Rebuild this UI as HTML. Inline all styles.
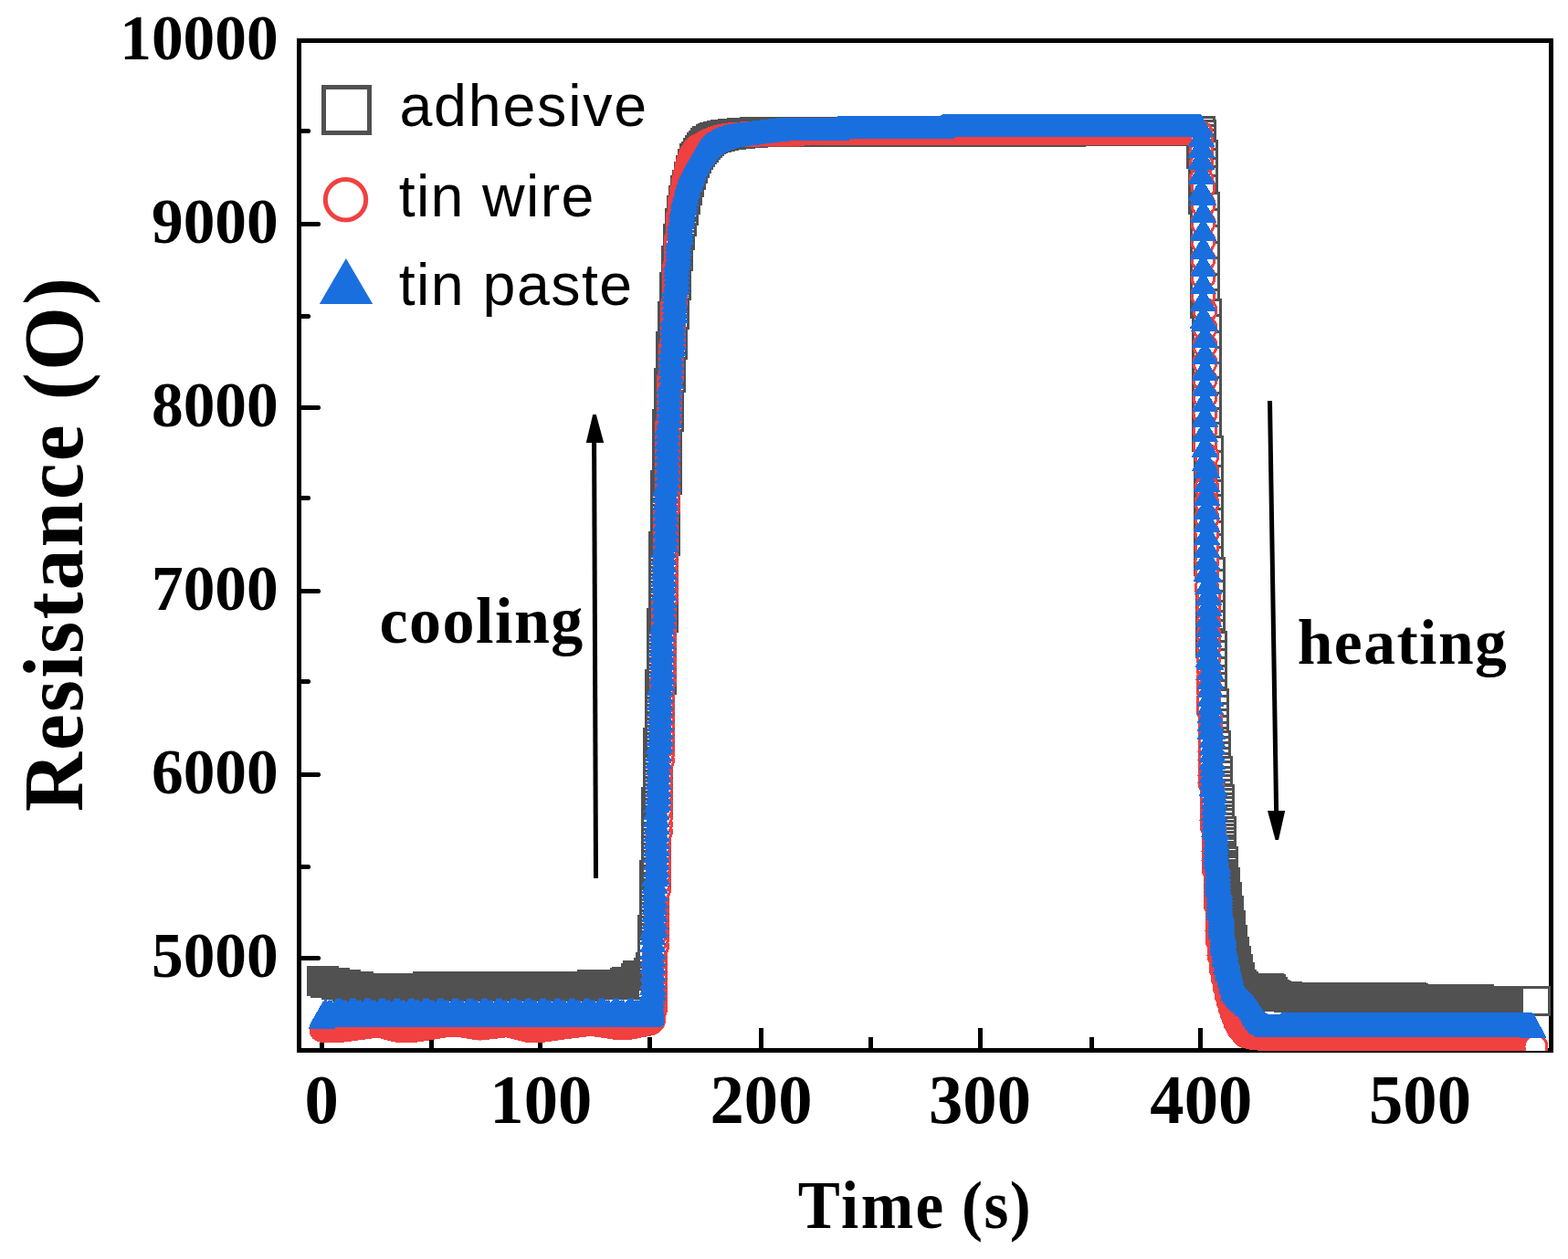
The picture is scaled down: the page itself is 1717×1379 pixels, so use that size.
<!DOCTYPE html>
<html lang="en"><head><meta charset="utf-8"><title>Resistance vs Time</title>
<style>html,body{margin:0;padding:0;background:#fff}svg{display:block}</style></head>
<body><svg width="1717" height="1379" viewBox="0 0 1717 1379">
<rect width="1717" height="1379" fill="#fff"/>
<defs>
<clipPath id="c"><rect x="328" y="44" width="1371" height="1107"/></clipPath>
</defs>
<g stroke="#000" stroke-width="5" fill="none" shape-rendering="crispEdges">
<rect x="327.5" y="44.5" width="1371.0" height="1106.0"/>
<path d="M327.5 245.5H350M327.5 446.5H350M327.5 647.5H350M327.5 848.5H350M327.5 1049.5H350M327.5 143.5H339M327.5 346.5H339M327.5 545.5H339M327.5 746.5H339M327.5 949.5H339M352.5 1150.5V1126M591.5 1150.5V1126M833.5 1150.5V1126M1073.5 1150.5V1126M1314.5 1150.5V1126M1555 1150.5V1126M472.5 1150.5V1136M711.5 1150.5V1136M953.5 1150.5V1136M1195.5 1150.5V1136M1434.75 1150.5V1136M1675.25 1150.5V1136"/>
<path d="M350 245.5h1M350 446.5h1M350 647.5h1M350 848.5h1M350 1049.5h1M339 143.5h1M339 346.5h1M339 545.5h1M339 746.5h1M339 949.5h1" stroke-width="3"/>
</g>
<g clip-path="url(#c)" shape-rendering="crispEdges">
<g id="adhesive" fill="#fff" stroke="#515151" stroke-width="3">
<rect x="337.5" y="1059.5" width="30" height="30"/><rect x="339.5" y="1059.5" width="30" height="30"/><rect x="341.5" y="1061.5" width="30" height="30"/><rect x="343.5" y="1061.5" width="30" height="30"/><rect x="345.5" y="1061.5" width="30" height="30"/><rect x="347.5" y="1061.5" width="30" height="30"/><rect x="349.5" y="1061.5" width="30" height="30"/><rect x="351.5" y="1061.5" width="30" height="30"/><rect x="353.5" y="1063.5" width="30" height="30"/><rect x="355.5" y="1063.5" width="30" height="30"/><rect x="357.5" y="1063.5" width="30" height="30"/><rect x="359.5" y="1063.5" width="30" height="30"/><rect x="361.5" y="1063.5" width="30" height="30"/><rect x="363.5" y="1063.5" width="30" height="30"/><rect x="365.5" y="1065.5" width="30" height="30"/><rect x="367.5" y="1065.5" width="30" height="30"/><rect x="369.5" y="1065.5" width="30" height="30"/><rect x="371.5" y="1065.5" width="30" height="30"/><rect x="373.5" y="1065.5" width="30" height="30"/><rect x="375.5" y="1065.5" width="30" height="30"/><rect x="377.5" y="1065.5" width="30" height="30"/><rect x="379.5" y="1067.5" width="30" height="30"/><rect x="381.5" y="1067.5" width="30" height="30"/><rect x="383.5" y="1067.5" width="30" height="30"/><rect x="385.5" y="1067.5" width="30" height="30"/><rect x="387.5" y="1067.5" width="30" height="30"/><rect x="389.5" y="1067.5" width="30" height="30"/><rect x="391.5" y="1067.5" width="30" height="30"/><rect x="393.5" y="1067.5" width="30" height="30"/><rect x="395.5" y="1067.5" width="30" height="30"/><rect x="397.5" y="1067.5" width="30" height="30"/><rect x="399.5" y="1067.5" width="30" height="30"/><rect x="401.5" y="1067.5" width="30" height="30"/><rect x="403.5" y="1067.5" width="30" height="30"/><rect x="405.5" y="1067.5" width="30" height="30"/><rect x="407.5" y="1067.5" width="30" height="30"/><rect x="409.5" y="1067.5" width="30" height="30"/><rect x="411.5" y="1067.5" width="30" height="30"/><rect x="413.5" y="1067.5" width="30" height="30"/><rect x="415.5" y="1067.5" width="30" height="30"/><rect x="417.5" y="1067.5" width="30" height="30"/><rect x="419.5" y="1067.5" width="30" height="30"/><rect x="421.5" y="1067.5" width="30" height="30"/><rect x="423.5" y="1067.5" width="30" height="30"/><rect x="425.5" y="1067.5" width="30" height="30"/><rect x="427.5" y="1067.5" width="30" height="30"/><rect x="429.5" y="1067.5" width="30" height="30"/><rect x="431.5" y="1067.5" width="30" height="30"/><rect x="433.5" y="1067.5" width="30" height="30"/><rect x="435.5" y="1067.5" width="30" height="30"/><rect x="437.5" y="1067.5" width="30" height="30"/><rect x="439.5" y="1067.5" width="30" height="30"/><rect x="441.5" y="1067.5" width="30" height="30"/><rect x="443.5" y="1067.5" width="30" height="30"/><rect x="445.5" y="1067.5" width="30" height="30"/><rect x="447.5" y="1067.5" width="30" height="30"/><rect x="449.5" y="1067.5" width="30" height="30"/><rect x="451.5" y="1067.5" width="30" height="30"/><rect x="453.5" y="1065.5" width="30" height="30"/><rect x="455.5" y="1065.5" width="30" height="30"/><rect x="457.5" y="1065.5" width="30" height="30"/><rect x="459.5" y="1065.5" width="30" height="30"/><rect x="461.5" y="1065.5" width="30" height="30"/><rect x="463.5" y="1065.5" width="30" height="30"/><rect x="465.5" y="1065.5" width="30" height="30"/><rect x="467.5" y="1065.5" width="30" height="30"/><rect x="469.5" y="1065.5" width="30" height="30"/><rect x="471.5" y="1065.5" width="30" height="30"/><rect x="473.5" y="1065.5" width="30" height="30"/><rect x="475.5" y="1065.5" width="30" height="30"/><rect x="477.5" y="1065.5" width="30" height="30"/><rect x="479.5" y="1065.5" width="30" height="30"/><rect x="481.5" y="1065.5" width="30" height="30"/><rect x="483.5" y="1065.5" width="30" height="30"/><rect x="485.5" y="1065.5" width="30" height="30"/><rect x="487.5" y="1065.5" width="30" height="30"/><rect x="489.5" y="1065.5" width="30" height="30"/><rect x="491.5" y="1065.5" width="30" height="30"/><rect x="493.5" y="1065.5" width="30" height="30"/><rect x="495.5" y="1065.5" width="30" height="30"/><rect x="497.5" y="1065.5" width="30" height="30"/><rect x="499.5" y="1065.5" width="30" height="30"/><rect x="501.5" y="1065.5" width="30" height="30"/><rect x="503.5" y="1065.5" width="30" height="30"/><rect x="505.5" y="1065.5" width="30" height="30"/><rect x="507.5" y="1065.5" width="30" height="30"/><rect x="509.5" y="1065.5" width="30" height="30"/><rect x="511.5" y="1065.5" width="30" height="30"/><rect x="513.5" y="1065.5" width="30" height="30"/><rect x="515.5" y="1065.5" width="30" height="30"/><rect x="517.5" y="1065.5" width="30" height="30"/><rect x="519.5" y="1065.5" width="30" height="30"/><rect x="521.5" y="1065.5" width="30" height="30"/><rect x="523.5" y="1065.5" width="30" height="30"/><rect x="525.5" y="1065.5" width="30" height="30"/><rect x="527.5" y="1065.5" width="30" height="30"/><rect x="529.5" y="1065.5" width="30" height="30"/><rect x="531.5" y="1065.5" width="30" height="30"/><rect x="533.5" y="1065.5" width="30" height="30"/><rect x="535.5" y="1065.5" width="30" height="30"/><rect x="537.5" y="1065.5" width="30" height="30"/><rect x="539.5" y="1065.5" width="30" height="30"/><rect x="541.5" y="1065.5" width="30" height="30"/><rect x="543.5" y="1065.5" width="30" height="30"/><rect x="545.5" y="1065.5" width="30" height="30"/><rect x="547.5" y="1065.5" width="30" height="30"/><rect x="549.5" y="1065.5" width="30" height="30"/><rect x="551.5" y="1065.5" width="30" height="30"/><rect x="553.5" y="1065.5" width="30" height="30"/><rect x="555.5" y="1065.5" width="30" height="30"/><rect x="557.5" y="1065.5" width="30" height="30"/><rect x="559.5" y="1065.5" width="30" height="30"/><rect x="561.5" y="1065.5" width="30" height="30"/><rect x="563.5" y="1065.5" width="30" height="30"/><rect x="565.5" y="1065.5" width="30" height="30"/><rect x="567.5" y="1065.5" width="30" height="30"/><rect x="569.5" y="1065.5" width="30" height="30"/><rect x="571.5" y="1065.5" width="30" height="30"/><rect x="573.5" y="1065.5" width="30" height="30"/><rect x="575.5" y="1065.5" width="30" height="30"/><rect x="577.5" y="1065.5" width="30" height="30"/><rect x="579.5" y="1065.5" width="30" height="30"/><rect x="581.5" y="1065.5" width="30" height="30"/><rect x="583.5" y="1065.5" width="30" height="30"/><rect x="585.5" y="1065.5" width="30" height="30"/><rect x="587.5" y="1065.5" width="30" height="30"/><rect x="589.5" y="1065.5" width="30" height="30"/><rect x="591.5" y="1065.5" width="30" height="30"/><rect x="593.5" y="1065.5" width="30" height="30"/><rect x="595.5" y="1065.5" width="30" height="30"/><rect x="597.5" y="1065.5" width="30" height="30"/><rect x="599.5" y="1065.5" width="30" height="30"/><rect x="601.5" y="1065.5" width="30" height="30"/><rect x="603.5" y="1065.5" width="30" height="30"/><rect x="605.5" y="1065.5" width="30" height="30"/><rect x="607.5" y="1065.5" width="30" height="30"/><rect x="609.5" y="1065.5" width="30" height="30"/><rect x="611.5" y="1065.5" width="30" height="30"/><rect x="613.5" y="1065.5" width="30" height="30"/><rect x="615.5" y="1065.5" width="30" height="30"/><rect x="617.5" y="1065.5" width="30" height="30"/><rect x="619.5" y="1065.5" width="30" height="30"/><rect x="621.5" y="1065.5" width="30" height="30"/><rect x="623.5" y="1065.5" width="30" height="30"/><rect x="625.5" y="1065.5" width="30" height="30"/><rect x="627.5" y="1065.5" width="30" height="30"/><rect x="629.5" y="1065.5" width="30" height="30"/><rect x="631.5" y="1065.5" width="30" height="30"/><rect x="633.5" y="1063.5" width="30" height="30"/><rect x="635.5" y="1063.5" width="30" height="30"/><rect x="637.5" y="1063.5" width="30" height="30"/><rect x="639.5" y="1063.5" width="30" height="30"/><rect x="641.5" y="1063.5" width="30" height="30"/><rect x="643.5" y="1063.5" width="30" height="30"/><rect x="645.5" y="1063.5" width="30" height="30"/><rect x="647.5" y="1063.5" width="30" height="30"/><rect x="649.5" y="1063.5" width="30" height="30"/><rect x="651.5" y="1063.5" width="30" height="30"/><rect x="653.5" y="1063.5" width="30" height="30"/><rect x="655.5" y="1063.5" width="30" height="30"/><rect x="657.5" y="1063.5" width="30" height="30"/><rect x="659.5" y="1063.5" width="30" height="30"/><rect x="661.5" y="1063.5" width="30" height="30"/><rect x="663.5" y="1063.5" width="30" height="30"/><rect x="665.5" y="1063.5" width="30" height="30"/><rect x="667.5" y="1063.5" width="30" height="30"/><rect x="669.5" y="1061.3" width="30" height="30"/><rect x="669.5" y="1063.5" width="30" height="30"/><rect x="671.5" y="1060.2" width="30" height="30"/><rect x="671.5" y="1063.5" width="30" height="30"/><rect x="673.5" y="1060.2" width="30" height="30"/><rect x="673.5" y="1063.5" width="30" height="30"/><rect x="675.5" y="1060.2" width="30" height="30"/><rect x="675.5" y="1063.5" width="30" height="30"/><rect x="677.5" y="1060.2" width="30" height="30"/><rect x="677.5" y="1063.5" width="30" height="30"/><rect x="679.5" y="1060.2" width="30" height="30"/><rect x="679.5" y="1063.5" width="30" height="30"/><rect x="681.5" y="1056.7" width="30" height="30"/><rect x="681.5" y="1063.5" width="30" height="30"/><rect x="683.5" y="1053.2" width="30" height="30"/><rect x="683.5" y="1063.5" width="30" height="30"/><rect x="685.5" y="1053.2" width="30" height="30"/><rect x="685.5" y="1063.5" width="30" height="30"/><rect x="687.5" y="1053.2" width="30" height="30"/><rect x="687.5" y="1063.5" width="30" height="30"/><rect x="689.5" y="1053.2" width="30" height="30"/><rect x="689.5" y="1063.5" width="30" height="30"/><rect x="691.5" y="1053.2" width="30" height="30"/><rect x="691.5" y="1063.5" width="30" height="30"/><rect x="693.5" y="1053.2" width="30" height="30"/><rect x="693.5" y="1063.5" width="30" height="30"/><rect x="694" y="1063.5" width="30" height="30"/><rect x="696" y="1063.5" width="30" height="30"/><rect x="698" y="1063.5" width="30" height="30"/><rect x="693.9" y="1053.2" width="30" height="30"/><rect x="695.9" y="1052.1" width="30" height="30"/><rect x="695.9" y="1050.4" width="30" height="30"/><rect x="697.9" y="1049.9" width="30" height="30"/><rect x="697.9" y="1048.1" width="30" height="30"/><rect x="697.9" y="1046.2" width="30" height="30"/><rect x="697.9" y="1044.1" width="30" height="30"/><rect x="699.9" y="1042" width="30" height="30"/><rect x="699.9" y="1039.5" width="30" height="30"/><rect x="699.9" y="1036.6" width="30" height="30"/><rect x="699.9" y="1033.1" width="30" height="30"/><rect x="699.9" y="1029" width="30" height="30"/><rect x="699.9" y="1024" width="30" height="30"/><rect x="699.9" y="1018.3" width="30" height="30"/><rect x="699.9" y="1011.7" width="30" height="30"/><rect x="699.9" y="1003.9" width="30" height="30"/><rect x="701.9" y="998.5" width="30" height="30"/><rect x="701.9" y="990.6" width="30" height="30"/><rect x="701.9" y="982.8" width="30" height="30"/><rect x="701.9" y="974.9" width="30" height="30"/><rect x="701.9" y="967.1" width="30" height="30"/><rect x="701.9" y="959.3" width="30" height="30"/><rect x="701.9" y="951.4" width="30" height="30"/><rect x="701.9" y="943.6" width="30" height="30"/><rect x="703.9" y="941.7" width="30" height="30"/><rect x="703.9" y="933.8" width="30" height="30"/><rect x="703.9" y="926" width="30" height="30"/><rect x="703.9" y="918.1" width="30" height="30"/><rect x="703.9" y="910.3" width="30" height="30"/><rect x="703.9" y="902.5" width="30" height="30"/><rect x="703.9" y="894.6" width="30" height="30"/><rect x="703.9" y="886.7" width="30" height="30"/><rect x="703.9" y="878.9" width="30" height="30"/><rect x="703.9" y="871.1" width="30" height="30"/><rect x="703.9" y="863.3" width="30" height="30"/><rect x="705.9" y="860.9" width="30" height="30"/><rect x="705.9" y="853" width="30" height="30"/><rect x="705.9" y="845.2" width="30" height="30"/><rect x="705.9" y="837.5" width="30" height="30"/><rect x="705.9" y="829.7" width="30" height="30"/><rect x="705.9" y="821.9" width="30" height="30"/><rect x="705.9" y="814.1" width="30" height="30"/><rect x="705.9" y="806.3" width="30" height="30"/><rect x="705.9" y="798.6" width="30" height="30"/><rect x="707.9" y="796.8" width="30" height="30"/><rect x="707.9" y="789" width="30" height="30"/><rect x="707.9" y="781.2" width="30" height="30"/><rect x="707.9" y="773.4" width="30" height="30"/><rect x="707.9" y="765.6" width="30" height="30"/><rect x="707.9" y="757.8" width="30" height="30"/><rect x="707.9" y="750" width="30" height="30"/><rect x="707.9" y="742.2" width="30" height="30"/><rect x="707.9" y="734.4" width="30" height="30"/><rect x="709.9" y="729.9" width="30" height="30"/><rect x="709.9" y="722.1" width="30" height="30"/><rect x="709.9" y="714.3" width="30" height="30"/><rect x="709.9" y="706.5" width="30" height="30"/><rect x="709.9" y="698.7" width="30" height="30"/><rect x="709.9" y="691" width="30" height="30"/><rect x="709.9" y="683.2" width="30" height="30"/><rect x="709.9" y="675.4" width="30" height="30"/><rect x="709.9" y="667.6" width="30" height="30"/><rect x="711.9" y="661.5" width="30" height="30"/><rect x="711.9" y="653.7" width="30" height="30"/><rect x="711.9" y="645.9" width="30" height="30"/><rect x="711.9" y="638.2" width="30" height="30"/><rect x="711.9" y="630.5" width="30" height="30"/><rect x="711.9" y="622.8" width="30" height="30"/><rect x="711.9" y="615" width="30" height="30"/><rect x="711.9" y="607.2" width="30" height="30"/><rect x="711.9" y="599.5" width="30" height="30"/><rect x="711.9" y="591.7" width="30" height="30"/><rect x="711.9" y="583.9" width="30" height="30"/><rect x="713.9" y="577.8" width="30" height="30"/><rect x="713.9" y="570.1" width="30" height="30"/><rect x="713.9" y="562.3" width="30" height="30"/><rect x="713.9" y="554.6" width="30" height="30"/><rect x="713.9" y="546.8" width="30" height="30"/><rect x="713.9" y="539.2" width="30" height="30"/><rect x="713.9" y="531.5" width="30" height="30"/><rect x="713.9" y="523.8" width="30" height="30"/><rect x="713.9" y="516.1" width="30" height="30"/><rect x="715.9" y="510.5" width="30" height="30"/><rect x="715.9" y="502.8" width="30" height="30"/><rect x="715.9" y="495.1" width="30" height="30"/><rect x="715.9" y="487.5" width="30" height="30"/><rect x="715.9" y="479.7" width="30" height="30"/><rect x="715.9" y="472.1" width="30" height="30"/><rect x="715.9" y="464.4" width="30" height="30"/><rect x="715.9" y="456.7" width="30" height="30"/><rect x="715.9" y="449.1" width="30" height="30"/><rect x="717.9" y="441.5" width="30" height="30"/><rect x="717.9" y="433.9" width="30" height="30"/><rect x="717.9" y="426.4" width="30" height="30"/><rect x="717.9" y="419" width="30" height="30"/><rect x="717.9" y="411.6" width="30" height="30"/><rect x="717.9" y="404.4" width="30" height="30"/><rect x="719.9" y="398.6" width="30" height="30"/><rect x="719.9" y="391.6" width="30" height="30"/><rect x="719.9" y="384.6" width="30" height="30"/><rect x="719.9" y="377.7" width="30" height="30"/><rect x="719.9" y="371" width="30" height="30"/><rect x="719.9" y="364.4" width="30" height="30"/><rect x="721.9" y="362.8" width="30" height="30"/><rect x="721.9" y="356.3" width="30" height="30"/><rect x="721.9" y="349.9" width="30" height="30"/><rect x="721.9" y="343.5" width="30" height="30"/><rect x="721.9" y="337.2" width="30" height="30"/><rect x="721.9" y="331" width="30" height="30"/><rect x="723.9" y="329" width="30" height="30"/><rect x="723.9" y="322.9" width="30" height="30"/><rect x="723.9" y="317" width="30" height="30"/><rect x="723.9" y="311.1" width="30" height="30"/><rect x="723.9" y="305.2" width="30" height="30"/><rect x="723.9" y="299.5" width="30" height="30"/><rect x="725.9" y="297.1" width="30" height="30"/><rect x="725.9" y="291.5" width="30" height="30"/><rect x="725.9" y="286" width="30" height="30"/><rect x="725.9" y="280.6" width="30" height="30"/><rect x="725.9" y="275.3" width="30" height="30"/><rect x="725.9" y="270.1" width="30" height="30"/><rect x="727.9" y="265.6" width="30" height="30"/><rect x="727.9" y="260.7" width="30" height="30"/><rect x="727.9" y="255.9" width="30" height="30"/><rect x="727.9" y="251.3" width="30" height="30"/><rect x="727.9" y="246.7" width="30" height="30"/><rect x="729.9" y="242.6" width="30" height="30"/><rect x="729.9" y="238.2" width="30" height="30"/><rect x="729.9" y="234" width="30" height="30"/><rect x="729.9" y="229.8" width="30" height="30"/><rect x="731.9" y="227.6" width="30" height="30"/><rect x="731.9" y="223.6" width="30" height="30"/><rect x="731.9" y="219.7" width="30" height="30"/><rect x="731.9" y="215.9" width="30" height="30"/><rect x="733.9" y="215.4" width="30" height="30"/><rect x="733.9" y="211.7" width="30" height="30"/><rect x="733.9" y="208.1" width="30" height="30"/><rect x="733.9" y="204.6" width="30" height="30"/><rect x="735.9" y="203.8" width="30" height="30"/><rect x="735.9" y="200.4" width="30" height="30"/><rect x="735.9" y="197.1" width="30" height="30"/><rect x="735.9" y="193.8" width="30" height="30"/><rect x="737.9" y="193.4" width="30" height="30"/><rect x="737.9" y="190.3" width="30" height="30"/><rect x="737.9" y="187.3" width="30" height="30"/><rect x="739.9" y="184.6" width="30" height="30"/><rect x="739.9" y="181.7" width="30" height="30"/><rect x="739.9" y="178.9" width="30" height="30"/><rect x="741.9" y="176.5" width="30" height="30"/><rect x="741.9" y="173.8" width="30" height="30"/><rect x="741.9" y="171.2" width="30" height="30"/><rect x="743.9" y="169.3" width="30" height="30"/><rect x="743.9" y="166.9" width="30" height="30"/><rect x="743.9" y="164.5" width="30" height="30"/><rect x="745.9" y="163.4" width="30" height="30"/><rect x="745.9" y="161.1" width="30" height="30"/><rect x="745.9" y="158.9" width="30" height="30"/><rect x="747.9" y="158.8" width="30" height="30"/><rect x="747.9" y="156.6" width="30" height="30"/><rect x="749.9" y="154.9" width="30" height="30"/><rect x="749.9" y="152.8" width="30" height="30"/><rect x="751.9" y="151.6" width="30" height="30"/><rect x="751.9" y="149.6" width="30" height="30"/><rect x="753.9" y="148.7" width="30" height="30"/><rect x="753.9" y="146.8" width="30" height="30"/><rect x="755.9" y="146.1" width="30" height="30"/><rect x="755.9" y="144.3" width="30" height="30"/><rect x="757.9" y="143.6" width="30" height="30"/><rect x="757.9" y="141.9" width="30" height="30"/><rect x="759.9" y="141.3" width="30" height="30"/><rect x="759.9" y="139.7" width="30" height="30"/><rect x="761.9" y="139.4" width="30" height="30"/><rect x="763.9" y="137.8" width="30" height="30"/><rect x="765.9" y="136.8" width="30" height="30"/><rect x="767.9" y="135.9" width="30" height="30"/><rect x="769.9" y="135.2" width="30" height="30"/><rect x="771.9" y="134.6" width="30" height="30"/><rect x="773.9" y="134.1" width="30" height="30"/><rect x="775.9" y="133.6" width="30" height="30"/><rect x="777.9" y="133.2" width="30" height="30"/><rect x="779.9" y="132.8" width="30" height="30"/><rect x="781.9" y="132.5" width="30" height="30"/><rect x="783.9" y="132.3" width="30" height="30"/><rect x="785.9" y="132" width="30" height="30"/><rect x="787.9" y="131.8" width="30" height="30"/><rect x="789.9" y="131.6" width="30" height="30"/><rect x="791.9" y="131.4" width="30" height="30"/><rect x="793.9" y="131.2" width="30" height="30"/><rect x="795.9" y="131" width="30" height="30"/><rect x="797.9" y="130.8" width="30" height="30"/><rect x="799.9" y="130.7" width="30" height="30"/><rect x="801.9" y="130.5" width="30" height="30"/><rect x="803.9" y="130.3" width="30" height="30"/><rect x="805.9" y="130.2" width="30" height="30"/><rect x="807.9" y="130.1" width="30" height="30"/><rect x="809.9" y="130" width="30" height="30"/><rect x="811.9" y="129.8" width="30" height="30"/><rect x="813.9" y="129.7" width="30" height="30"/><rect x="815.9" y="129.6" width="30" height="30"/><rect x="817.5" y="129.6" width="30" height="30"/><rect x="819.5" y="129.6" width="30" height="30"/><rect x="821.5" y="129.6" width="30" height="30"/><rect x="823.5" y="129.6" width="30" height="30"/><rect x="825.5" y="129.6" width="30" height="30"/><rect x="827.5" y="129.6" width="30" height="30"/><rect x="829.5" y="129.6" width="30" height="30"/><rect x="831.5" y="129.6" width="30" height="30"/><rect x="833.5" y="129.6" width="30" height="30"/><rect x="835.5" y="129.6" width="30" height="30"/><rect x="837.5" y="129.6" width="30" height="30"/><rect x="839.5" y="129.6" width="30" height="30"/><rect x="841.5" y="129.6" width="30" height="30"/><rect x="843.5" y="129.6" width="30" height="30"/><rect x="845.5" y="129.6" width="30" height="30"/><rect x="847.5" y="129.6" width="30" height="30"/><rect x="849.5" y="129.6" width="30" height="30"/><rect x="851.5" y="129.6" width="30" height="30"/><rect x="853.5" y="129.6" width="30" height="30"/><rect x="855.5" y="129.6" width="30" height="30"/><rect x="857.5" y="129.6" width="30" height="30"/><rect x="859.5" y="129.6" width="30" height="30"/><rect x="861.5" y="129.6" width="30" height="30"/><rect x="863.5" y="129.6" width="30" height="30"/><rect x="865.5" y="129.6" width="30" height="30"/><rect x="867.5" y="129.6" width="30" height="30"/><rect x="869.5" y="129.6" width="30" height="30"/><rect x="871.5" y="129.6" width="30" height="30"/><rect x="873.5" y="129.6" width="30" height="30"/><rect x="875.5" y="129.6" width="30" height="30"/><rect x="877.5" y="129.6" width="30" height="30"/><rect x="879.5" y="129.6" width="30" height="30"/><rect x="881.5" y="129.6" width="30" height="30"/><rect x="883.5" y="129.6" width="30" height="30"/><rect x="885.5" y="129.6" width="30" height="30"/><rect x="887.5" y="129.6" width="30" height="30"/><rect x="889.5" y="129.6" width="30" height="30"/><rect x="891.5" y="129.6" width="30" height="30"/><rect x="893.5" y="129.6" width="30" height="30"/><rect x="895.5" y="129.6" width="30" height="30"/><rect x="897.5" y="129.6" width="30" height="30"/><rect x="899.5" y="129.6" width="30" height="30"/><rect x="901.5" y="129.5" width="30" height="30"/><rect x="903.5" y="129.5" width="30" height="30"/><rect x="905.5" y="129.5" width="30" height="30"/><rect x="907.5" y="129.5" width="30" height="30"/><rect x="909.5" y="129.5" width="30" height="30"/><rect x="911.5" y="129.5" width="30" height="30"/><rect x="913.5" y="129.5" width="30" height="30"/><rect x="915.5" y="129.5" width="30" height="30"/><rect x="917.5" y="129.5" width="30" height="30"/><rect x="919.5" y="129.5" width="30" height="30"/><rect x="921.5" y="129.5" width="30" height="30"/><rect x="923.5" y="129.5" width="30" height="30"/><rect x="925.5" y="129.5" width="30" height="30"/><rect x="927.5" y="129.5" width="30" height="30"/><rect x="929.5" y="129.5" width="30" height="30"/><rect x="931.5" y="129.5" width="30" height="30"/><rect x="933.5" y="129.5" width="30" height="30"/><rect x="935.5" y="129.5" width="30" height="30"/><rect x="937.5" y="129.5" width="30" height="30"/><rect x="939.5" y="129.5" width="30" height="30"/><rect x="941.5" y="129.5" width="30" height="30"/><rect x="943.5" y="129.5" width="30" height="30"/><rect x="945.5" y="129.5" width="30" height="30"/><rect x="947.5" y="129.5" width="30" height="30"/><rect x="949.5" y="129.5" width="30" height="30"/><rect x="951.5" y="129.5" width="30" height="30"/><rect x="953.5" y="129.5" width="30" height="30"/><rect x="955.5" y="129.5" width="30" height="30"/><rect x="957.5" y="129.5" width="30" height="30"/><rect x="959.5" y="129.5" width="30" height="30"/><rect x="961.5" y="129.5" width="30" height="30"/><rect x="963.5" y="129.5" width="30" height="30"/><rect x="965.5" y="129.5" width="30" height="30"/><rect x="967.5" y="129.5" width="30" height="30"/><rect x="969.5" y="129.5" width="30" height="30"/><rect x="971.5" y="129.5" width="30" height="30"/><rect x="973.5" y="129.5" width="30" height="30"/><rect x="975.5" y="129.5" width="30" height="30"/><rect x="977.5" y="129.5" width="30" height="30"/><rect x="979.5" y="129.5" width="30" height="30"/><rect x="981.5" y="129.5" width="30" height="30"/><rect x="983.5" y="129.5" width="30" height="30"/><rect x="985.5" y="129.5" width="30" height="30"/><rect x="987.5" y="129.5" width="30" height="30"/><rect x="989.5" y="129.5" width="30" height="30"/><rect x="991.5" y="129.5" width="30" height="30"/><rect x="993.5" y="129.5" width="30" height="30"/><rect x="995.5" y="129.5" width="30" height="30"/><rect x="997.5" y="129.5" width="30" height="30"/><rect x="999.5" y="129.5" width="30" height="30"/><rect x="1001.5" y="129.4" width="30" height="30"/><rect x="1003.5" y="129.4" width="30" height="30"/><rect x="1005.5" y="129.4" width="30" height="30"/><rect x="1007.5" y="129.4" width="30" height="30"/><rect x="1009.5" y="129.4" width="30" height="30"/><rect x="1011.5" y="129.4" width="30" height="30"/><rect x="1013.5" y="129.4" width="30" height="30"/><rect x="1015.5" y="129.4" width="30" height="30"/><rect x="1017.5" y="129.4" width="30" height="30"/><rect x="1019.5" y="129.4" width="30" height="30"/><rect x="1021.5" y="129.4" width="30" height="30"/><rect x="1023.5" y="129.4" width="30" height="30"/><rect x="1025.5" y="129.4" width="30" height="30"/><rect x="1027.5" y="129.4" width="30" height="30"/><rect x="1029.5" y="129.4" width="30" height="30"/><rect x="1031.5" y="129.4" width="30" height="30"/><rect x="1033.5" y="129.3" width="30" height="30"/><rect x="1035.5" y="129.3" width="30" height="30"/><rect x="1037.5" y="129.3" width="30" height="30"/><rect x="1039.5" y="129.3" width="30" height="30"/><rect x="1041.5" y="129.3" width="30" height="30"/><rect x="1043.5" y="129.3" width="30" height="30"/><rect x="1045.5" y="129.3" width="30" height="30"/><rect x="1047.5" y="129.3" width="30" height="30"/><rect x="1049.5" y="129.3" width="30" height="30"/><rect x="1051.5" y="129.3" width="30" height="30"/><rect x="1053.5" y="129.3" width="30" height="30"/><rect x="1055.5" y="129.3" width="30" height="30"/><rect x="1057.5" y="129.3" width="30" height="30"/><rect x="1059.5" y="129.3" width="30" height="30"/><rect x="1061.5" y="129.3" width="30" height="30"/><rect x="1063.5" y="129.3" width="30" height="30"/><rect x="1065.5" y="129.2" width="30" height="30"/><rect x="1067.5" y="129.2" width="30" height="30"/><rect x="1069.5" y="129.2" width="30" height="30"/><rect x="1071.5" y="129.2" width="30" height="30"/><rect x="1073.5" y="129.2" width="30" height="30"/><rect x="1075.5" y="129.2" width="30" height="30"/><rect x="1077.5" y="129.2" width="30" height="30"/><rect x="1079.5" y="129.2" width="30" height="30"/><rect x="1081.5" y="129.2" width="30" height="30"/><rect x="1083.5" y="129.2" width="30" height="30"/><rect x="1085.5" y="129.2" width="30" height="30"/><rect x="1087.5" y="129.2" width="30" height="30"/><rect x="1089.5" y="129.2" width="30" height="30"/><rect x="1091.5" y="129.2" width="30" height="30"/><rect x="1093.5" y="129.2" width="30" height="30"/><rect x="1095.5" y="129.1" width="30" height="30"/><rect x="1097.5" y="129.1" width="30" height="30"/><rect x="1099.5" y="129.1" width="30" height="30"/><rect x="1101.5" y="129.1" width="30" height="30"/><rect x="1103.5" y="129.1" width="30" height="30"/><rect x="1105.5" y="129.1" width="30" height="30"/><rect x="1107.5" y="129.1" width="30" height="30"/><rect x="1109.5" y="129.1" width="30" height="30"/><rect x="1111.5" y="129.1" width="30" height="30"/><rect x="1113.5" y="129.1" width="30" height="30"/><rect x="1115.5" y="129.1" width="30" height="30"/><rect x="1117.5" y="129.1" width="30" height="30"/><rect x="1119.5" y="129.1" width="30" height="30"/><rect x="1121.5" y="129.1" width="30" height="30"/><rect x="1123.5" y="129.1" width="30" height="30"/><rect x="1125.5" y="129.1" width="30" height="30"/><rect x="1127.5" y="129" width="30" height="30"/><rect x="1129.5" y="129" width="30" height="30"/><rect x="1131.5" y="129" width="30" height="30"/><rect x="1133.5" y="129" width="30" height="30"/><rect x="1135.5" y="129" width="30" height="30"/><rect x="1137.5" y="129" width="30" height="30"/><rect x="1139.5" y="129" width="30" height="30"/><rect x="1141.5" y="129" width="30" height="30"/><rect x="1143.5" y="129" width="30" height="30"/><rect x="1145.5" y="129" width="30" height="30"/><rect x="1147.5" y="129" width="30" height="30"/><rect x="1149.5" y="129" width="30" height="30"/><rect x="1151.5" y="129" width="30" height="30"/><rect x="1153.5" y="129" width="30" height="30"/><rect x="1155.5" y="129" width="30" height="30"/><rect x="1157.5" y="129" width="30" height="30"/><rect x="1159.5" y="128.9" width="30" height="30"/><rect x="1161.5" y="128.9" width="30" height="30"/><rect x="1163.5" y="128.9" width="30" height="30"/><rect x="1165.5" y="128.9" width="30" height="30"/><rect x="1167.5" y="128.9" width="30" height="30"/><rect x="1169.5" y="128.9" width="30" height="30"/><rect x="1171.5" y="128.9" width="30" height="30"/><rect x="1173.5" y="128.9" width="30" height="30"/><rect x="1175.5" y="128.9" width="30" height="30"/><rect x="1177.5" y="128.9" width="30" height="30"/><rect x="1179.5" y="128.9" width="30" height="30"/><rect x="1181.5" y="128.9" width="30" height="30"/><rect x="1183.5" y="128.9" width="30" height="30"/><rect x="1185.5" y="128.9" width="30" height="30"/><rect x="1187.5" y="128.9" width="30" height="30"/><rect x="1189.5" y="128.9" width="30" height="30"/><rect x="1191.5" y="128.8" width="30" height="30"/><rect x="1193.5" y="128.8" width="30" height="30"/><rect x="1195.5" y="128.8" width="30" height="30"/><rect x="1197.5" y="128.8" width="30" height="30"/><rect x="1199.5" y="128.8" width="30" height="30"/><rect x="1201.5" y="128.8" width="30" height="30"/><rect x="1203.5" y="128.8" width="30" height="30"/><rect x="1205.5" y="128.8" width="30" height="30"/><rect x="1207.5" y="128.8" width="30" height="30"/><rect x="1209.5" y="128.8" width="30" height="30"/><rect x="1211.5" y="128.8" width="30" height="30"/><rect x="1213.5" y="128.8" width="30" height="30"/><rect x="1215.5" y="128.8" width="30" height="30"/><rect x="1217.5" y="128.8" width="30" height="30"/><rect x="1219.5" y="128.8" width="30" height="30"/><rect x="1221.5" y="128.8" width="30" height="30"/><rect x="1223.5" y="128.7" width="30" height="30"/><rect x="1225.5" y="128.7" width="30" height="30"/><rect x="1227.5" y="128.7" width="30" height="30"/><rect x="1229.5" y="128.7" width="30" height="30"/><rect x="1231.5" y="128.7" width="30" height="30"/><rect x="1233.5" y="128.7" width="30" height="30"/><rect x="1235.5" y="128.7" width="30" height="30"/><rect x="1237.5" y="128.7" width="30" height="30"/><rect x="1239.5" y="128.7" width="30" height="30"/><rect x="1241.5" y="128.7" width="30" height="30"/><rect x="1243.5" y="128.7" width="30" height="30"/><rect x="1245.5" y="128.7" width="30" height="30"/><rect x="1247.5" y="128.7" width="30" height="30"/><rect x="1249.5" y="128.7" width="30" height="30"/><rect x="1251.5" y="128.7" width="30" height="30"/><rect x="1253.5" y="128.6" width="30" height="30"/><rect x="1255.5" y="128.6" width="30" height="30"/><rect x="1257.5" y="128.6" width="30" height="30"/><rect x="1259.5" y="128.6" width="30" height="30"/><rect x="1261.5" y="128.6" width="30" height="30"/><rect x="1263.5" y="128.6" width="30" height="30"/><rect x="1265.5" y="128.6" width="30" height="30"/><rect x="1267.5" y="128.6" width="30" height="30"/><rect x="1269.5" y="128.6" width="30" height="30"/><rect x="1271.5" y="128.6" width="30" height="30"/><rect x="1273.5" y="128.6" width="30" height="30"/><rect x="1275.5" y="128.6" width="30" height="30"/><rect x="1277.5" y="128.6" width="30" height="30"/><rect x="1279.5" y="128.6" width="30" height="30"/><rect x="1281.5" y="128.6" width="30" height="30"/><rect x="1283.5" y="128.6" width="30" height="30"/><rect x="1285.5" y="128.5" width="30" height="30"/><rect x="1287.5" y="128.5" width="30" height="30"/><rect x="1289.5" y="128.5" width="30" height="30"/><rect x="1291.5" y="128.5" width="30" height="30"/><rect x="1293.5" y="128.5" width="30" height="30"/><rect x="1295.5" y="128.5" width="30" height="30"/><rect x="1297.5" y="128.5" width="30" height="30"/><rect x="1299.5" y="128.5" width="30" height="30"/><rect x="1300.5" y="132.9" width="30" height="30"/><rect x="1300.5" y="137.4" width="30" height="30"/><rect x="1300.5" y="142.1" width="30" height="30"/><rect x="1300.5" y="147" width="30" height="30"/><rect x="1300.5" y="153.4" width="30" height="30"/><rect x="1302.5" y="154.5" width="30" height="30"/><rect x="1302.5" y="163.7" width="30" height="30"/><rect x="1302.5" y="173" width="30" height="30"/><rect x="1302.5" y="182.7" width="30" height="30"/><rect x="1302.5" y="192.6" width="30" height="30"/><rect x="1302.5" y="203.8" width="30" height="30"/><rect x="1304.5" y="211" width="30" height="30"/><rect x="1304.5" y="229.2" width="30" height="30"/><rect x="1304.5" y="247.2" width="30" height="30"/><rect x="1304.5" y="265" width="30" height="30"/><rect x="1304.5" y="282.7" width="30" height="30"/><rect x="1304.5" y="300.2" width="30" height="30"/><rect x="1304.5" y="317.6" width="30" height="30"/><rect x="1306.5" y="328.5" width="30" height="30"/><rect x="1306.5" y="345.8" width="30" height="30"/><rect x="1306.5" y="363" width="30" height="30"/><rect x="1306.5" y="380" width="30" height="30"/><rect x="1306.5" y="397.1" width="30" height="30"/><rect x="1306.5" y="413.9" width="30" height="30"/><rect x="1306.5" y="430.7" width="30" height="30"/><rect x="1306.5" y="447.2" width="30" height="30"/><rect x="1306.5" y="463.8" width="30" height="30"/><rect x="1308.5" y="478.2" width="30" height="30"/><rect x="1308.5" y="494.4" width="30" height="30"/><rect x="1308.5" y="510.8" width="30" height="30"/><rect x="1308.5" y="526.8" width="30" height="30"/><rect x="1308.5" y="542.4" width="30" height="30"/><rect x="1308.5" y="557.4" width="30" height="30"/><rect x="1308.5" y="571.9" width="30" height="30"/><rect x="1308.5" y="585.7" width="30" height="30"/><rect x="1308.5" y="599" width="30" height="30"/><rect x="1310.5" y="611.8" width="30" height="30"/><rect x="1310.5" y="624.1" width="30" height="30"/><rect x="1310.5" y="636" width="30" height="30"/><rect x="1310.5" y="647.6" width="30" height="30"/><rect x="1310.5" y="658.6" width="30" height="30"/><rect x="1310.5" y="669.3" width="30" height="30"/><rect x="1310.5" y="679.5" width="30" height="30"/><rect x="1310.5" y="689.4" width="30" height="30"/><rect x="1312.5" y="692.7" width="30" height="30"/><rect x="1312.5" y="702.2" width="30" height="30"/><rect x="1312.5" y="711.5" width="30" height="30"/><rect x="1312.5" y="720.4" width="30" height="30"/><rect x="1312.5" y="729.1" width="30" height="30"/><rect x="1312.5" y="737.5" width="30" height="30"/><rect x="1312.5" y="745.8" width="30" height="30"/><rect x="1312.5" y="753.7" width="30" height="30"/><rect x="1314.5" y="755.2" width="30" height="30"/><rect x="1314.5" y="762.8" width="30" height="30"/><rect x="1314.5" y="770.3" width="30" height="30"/><rect x="1314.5" y="777.4" width="30" height="30"/><rect x="1314.5" y="784.4" width="30" height="30"/><rect x="1314.5" y="791.1" width="30" height="30"/><rect x="1314.5" y="797.6" width="30" height="30"/><rect x="1316.5" y="801.3" width="30" height="30"/><rect x="1316.5" y="807.5" width="30" height="30"/><rect x="1316.5" y="813.5" width="30" height="30"/><rect x="1316.5" y="819.4" width="30" height="30"/><rect x="1316.5" y="825" width="30" height="30"/><rect x="1318.5" y="829.4" width="30" height="30"/><rect x="1318.5" y="834.8" width="30" height="30"/><rect x="1318.5" y="840" width="30" height="30"/><rect x="1318.5" y="845" width="30" height="30"/><rect x="1318.5" y="849.9" width="30" height="30"/><rect x="1318.5" y="854.8" width="30" height="30"/><rect x="1318.5" y="859.5" width="30" height="30"/><rect x="1320.5" y="860" width="30" height="30"/><rect x="1320.5" y="864.7" width="30" height="30"/><rect x="1320.5" y="869.3" width="30" height="30"/><rect x="1320.5" y="873.8" width="30" height="30"/><rect x="1320.5" y="878.2" width="30" height="30"/><rect x="1320.5" y="882.6" width="30" height="30"/><rect x="1320.5" y="886.9" width="30" height="30"/><rect x="1320.5" y="891.1" width="30" height="30"/><rect x="1320.5" y="895.1" width="30" height="30"/><rect x="1322.5" y="895.9" width="30" height="30"/><rect x="1322.5" y="899.8" width="30" height="30"/><rect x="1322.5" y="903.8" width="30" height="30"/><rect x="1322.5" y="907.6" width="30" height="30"/><rect x="1322.5" y="911.4" width="30" height="30"/><rect x="1322.5" y="915.2" width="30" height="30"/><rect x="1322.5" y="918.8" width="30" height="30"/><rect x="1322.5" y="922.4" width="30" height="30"/><rect x="1322.5" y="925.9" width="30" height="30"/><rect x="1324.5" y="928.7" width="30" height="30"/><rect x="1324.5" y="932.1" width="30" height="30"/><rect x="1324.5" y="935.5" width="30" height="30"/><rect x="1324.5" y="938.8" width="30" height="30"/><rect x="1324.5" y="942" width="30" height="30"/><rect x="1324.5" y="945.2" width="30" height="30"/><rect x="1324.5" y="948.4" width="30" height="30"/><rect x="1326.5" y="951.4" width="30" height="30"/><rect x="1326.5" y="954.4" width="30" height="30"/><rect x="1326.5" y="957.4" width="30" height="30"/><rect x="1326.5" y="960.3" width="30" height="30"/><rect x="1326.5" y="963.2" width="30" height="30"/><rect x="1326.5" y="966" width="30" height="30"/><rect x="1328.5" y="967.8" width="30" height="30"/><rect x="1328.5" y="970.5" width="30" height="30"/><rect x="1328.5" y="973.2" width="30" height="30"/><rect x="1328.5" y="975.9" width="30" height="30"/><rect x="1328.5" y="978.5" width="30" height="30"/><rect x="1328.5" y="981.1" width="30" height="30"/><rect x="1330.5" y="982.6" width="30" height="30"/><rect x="1330.5" y="985.1" width="30" height="30"/><rect x="1330.5" y="987.6" width="30" height="30"/><rect x="1330.5" y="990" width="30" height="30"/><rect x="1330.5" y="992.5" width="30" height="30"/><rect x="1330.5" y="994.9" width="30" height="30"/><rect x="1330.5" y="997.3" width="30" height="30"/><rect x="1332.5" y="998.3" width="30" height="30"/><rect x="1332.5" y="1000.6" width="30" height="30"/><rect x="1332.5" y="1002.9" width="30" height="30"/><rect x="1332.5" y="1005.2" width="30" height="30"/><rect x="1332.5" y="1007.5" width="30" height="30"/><rect x="1332.5" y="1009.7" width="30" height="30"/><rect x="1332.5" y="1011.9" width="30" height="30"/><rect x="1332.5" y="1014.1" width="30" height="30"/><rect x="1334.5" y="1014.9" width="30" height="30"/><rect x="1334.5" y="1017.1" width="30" height="30"/><rect x="1334.5" y="1019.2" width="30" height="30"/><rect x="1334.5" y="1021.3" width="30" height="30"/><rect x="1334.5" y="1023.4" width="30" height="30"/><rect x="1334.5" y="1025.4" width="30" height="30"/><rect x="1334.5" y="1027.4" width="30" height="30"/><rect x="1336.5" y="1027.6" width="30" height="30"/><rect x="1336.5" y="1029.6" width="30" height="30"/><rect x="1336.5" y="1031.6" width="30" height="30"/><rect x="1336.5" y="1033.5" width="30" height="30"/><rect x="1336.5" y="1035.4" width="30" height="30"/><rect x="1336.5" y="1037.3" width="30" height="30"/><rect x="1338.5" y="1037.6" width="30" height="30"/><rect x="1338.5" y="1039.5" width="30" height="30"/><rect x="1338.5" y="1041.3" width="30" height="30"/><rect x="1338.5" y="1043.1" width="30" height="30"/><rect x="1338.5" y="1045" width="30" height="30"/><rect x="1340.5" y="1046.5" width="30" height="30"/><rect x="1340.5" y="1048.3" width="30" height="30"/><rect x="1340.5" y="1050.1" width="30" height="30"/><rect x="1340.5" y="1051.9" width="30" height="30"/><rect x="1340.5" y="1053.6" width="30" height="30"/><rect x="1340.5" y="1055.3" width="30" height="30"/><rect x="1342.5" y="1055.9" width="30" height="30"/><rect x="1342.5" y="1057.7" width="30" height="30"/><rect x="1342.5" y="1059.4" width="30" height="30"/><rect x="1342.5" y="1061" width="30" height="30"/><rect x="1342.5" y="1062.7" width="30" height="30"/><rect x="1344.5" y="1063.1" width="30" height="30"/><rect x="1344.5" y="1064.7" width="30" height="30"/><rect x="1346.5" y="1065.9" width="30" height="30"/><rect x="1348.5" y="1067.4" width="30" height="30"/><rect x="1350.5" y="1067.5" width="30" height="30"/><rect x="1352.5" y="1067.5" width="30" height="30"/><rect x="1354.5" y="1067.5" width="30" height="30"/><rect x="1356.5" y="1067.5" width="30" height="30"/><rect x="1358.5" y="1067.5" width="30" height="30"/><rect x="1360.5" y="1067.5" width="30" height="30"/><rect x="1362.5" y="1067.5" width="30" height="30"/><rect x="1364.5" y="1067.5" width="30" height="30"/><rect x="1366.5" y="1067.5" width="30" height="30"/><rect x="1368.5" y="1067.5" width="30" height="30"/><rect x="1370.5" y="1067.5" width="30" height="30"/><rect x="1372.5" y="1067.5" width="30" height="30"/><rect x="1374.5" y="1067.5" width="30" height="30"/><rect x="1376.5" y="1068.2" width="30" height="30"/><rect x="1376.5" y="1069.8" width="30" height="30"/><rect x="1378.5" y="1071.2" width="30" height="30"/><rect x="1378.5" y="1072.8" width="30" height="30"/><rect x="1378.5" y="1074.4" width="30" height="30"/><rect x="1380.5" y="1074.5" width="30" height="30"/><rect x="1382.5" y="1075.7" width="30" height="30"/><rect x="1384.5" y="1076.2" width="30" height="30"/><rect x="1386.5" y="1076.5" width="30" height="30"/><rect x="1388.5" y="1076.6" width="30" height="30"/><rect x="1390.5" y="1076.7" width="30" height="30"/><rect x="1392.5" y="1076.8" width="30" height="30"/><rect x="1394.5" y="1076.9" width="30" height="30"/><rect x="1396.5" y="1077" width="30" height="30"/><rect x="1398.5" y="1077" width="30" height="30"/><rect x="1400.5" y="1077.1" width="30" height="30"/><rect x="1402.5" y="1077.2" width="30" height="30"/><rect x="1404.5" y="1077.3" width="30" height="30"/><rect x="1406.5" y="1077.4" width="30" height="30"/><rect x="1408.5" y="1077.5" width="30" height="30"/><rect x="1410.5" y="1077.6" width="30" height="30"/><rect x="1412.5" y="1077.7" width="30" height="30"/><rect x="1414.5" y="1077.8" width="30" height="30"/><rect x="1416.5" y="1077.9" width="30" height="30"/><rect x="1418.5" y="1077.9" width="30" height="30"/><rect x="1420.5" y="1077.9" width="30" height="30"/><rect x="1422.5" y="1077.9" width="30" height="30"/><rect x="1424.5" y="1077.9" width="30" height="30"/><rect x="1426.5" y="1077.9" width="30" height="30"/><rect x="1428.5" y="1077.9" width="30" height="30"/><rect x="1430.5" y="1077.9" width="30" height="30"/><rect x="1432.5" y="1077.9" width="30" height="30"/><rect x="1434.5" y="1077.9" width="30" height="30"/><rect x="1436.5" y="1077.9" width="30" height="30"/><rect x="1438.5" y="1077.9" width="30" height="30"/><rect x="1440.5" y="1077.9" width="30" height="30"/><rect x="1442.5" y="1077.9" width="30" height="30"/><rect x="1444.5" y="1077.9" width="30" height="30"/><rect x="1446.5" y="1077.9" width="30" height="30"/><rect x="1448.5" y="1077.9" width="30" height="30"/><rect x="1450.5" y="1077.9" width="30" height="30"/><rect x="1452.5" y="1077.9" width="30" height="30"/><rect x="1454.5" y="1077.9" width="30" height="30"/><rect x="1456.5" y="1077.9" width="30" height="30"/><rect x="1458.5" y="1077.9" width="30" height="30"/><rect x="1460.5" y="1077.9" width="30" height="30"/><rect x="1462.5" y="1077.9" width="30" height="30"/><rect x="1464.5" y="1077.9" width="30" height="30"/><rect x="1466.5" y="1077.9" width="30" height="30"/><rect x="1468.5" y="1077.9" width="30" height="30"/><rect x="1470.5" y="1077.9" width="30" height="30"/><rect x="1472.5" y="1077.9" width="30" height="30"/><rect x="1474.5" y="1077.9" width="30" height="30"/><rect x="1476.5" y="1077.9" width="30" height="30"/><rect x="1478.5" y="1077.9" width="30" height="30"/><rect x="1480.5" y="1077.9" width="30" height="30"/><rect x="1482.5" y="1077.9" width="30" height="30"/><rect x="1484.5" y="1077.9" width="30" height="30"/><rect x="1486.5" y="1077.9" width="30" height="30"/><rect x="1488.5" y="1077.9" width="30" height="30"/><rect x="1490.5" y="1077.9" width="30" height="30"/><rect x="1492.5" y="1077.9" width="30" height="30"/><rect x="1494.5" y="1077.9" width="30" height="30"/><rect x="1496.5" y="1077.9" width="30" height="30"/><rect x="1498.5" y="1077.9" width="30" height="30"/><rect x="1500.5" y="1077.9" width="30" height="30"/><rect x="1502.5" y="1077.9" width="30" height="30"/><rect x="1504.5" y="1077.9" width="30" height="30"/><rect x="1506.5" y="1077.9" width="30" height="30"/><rect x="1508.5" y="1077.9" width="30" height="30"/><rect x="1510.5" y="1077.9" width="30" height="30"/><rect x="1512.5" y="1077.9" width="30" height="30"/><rect x="1514.5" y="1077.9" width="30" height="30"/><rect x="1516.5" y="1077.9" width="30" height="30"/><rect x="1518.5" y="1077.9" width="30" height="30"/><rect x="1520.5" y="1077.9" width="30" height="30"/><rect x="1522.5" y="1077.9" width="30" height="30"/><rect x="1524.5" y="1077.9" width="30" height="30"/><rect x="1526.5" y="1077.9" width="30" height="30"/><rect x="1528.5" y="1077.9" width="30" height="30"/><rect x="1530.5" y="1077.9" width="30" height="30"/><rect x="1532.5" y="1078.8" width="30" height="30"/><rect x="1534.5" y="1079.7" width="30" height="30"/><rect x="1536.5" y="1079.7" width="30" height="30"/><rect x="1538.5" y="1079.7" width="30" height="30"/><rect x="1540.5" y="1079.7" width="30" height="30"/><rect x="1542.5" y="1079.7" width="30" height="30"/><rect x="1544.5" y="1079.7" width="30" height="30"/><rect x="1546.5" y="1079.7" width="30" height="30"/><rect x="1548.5" y="1079.7" width="30" height="30"/><rect x="1550.5" y="1079.7" width="30" height="30"/><rect x="1552.5" y="1079.7" width="30" height="30"/><rect x="1554.5" y="1079.7" width="30" height="30"/><rect x="1556.5" y="1079.7" width="30" height="30"/><rect x="1558.5" y="1079.7" width="30" height="30"/><rect x="1560.5" y="1079.7" width="30" height="30"/><rect x="1562.5" y="1079.7" width="30" height="30"/><rect x="1564.5" y="1079.7" width="30" height="30"/><rect x="1566.5" y="1079.7" width="30" height="30"/><rect x="1568.5" y="1079.7" width="30" height="30"/><rect x="1570.5" y="1079.7" width="30" height="30"/><rect x="1572.5" y="1079.7" width="30" height="30"/><rect x="1574.5" y="1079.7" width="30" height="30"/><rect x="1576.5" y="1079.7" width="30" height="30"/><rect x="1578.5" y="1079.7" width="30" height="30"/><rect x="1580.5" y="1079.7" width="30" height="30"/><rect x="1582.5" y="1079.7" width="30" height="30"/><rect x="1584.5" y="1079.7" width="30" height="30"/><rect x="1586.5" y="1079.7" width="30" height="30"/><rect x="1588.5" y="1079.7" width="30" height="30"/><rect x="1590.5" y="1079.7" width="30" height="30"/><rect x="1592.5" y="1079.7" width="30" height="30"/><rect x="1594.5" y="1079.7" width="30" height="30"/><rect x="1596.5" y="1079.7" width="30" height="30"/><rect x="1598.5" y="1079.7" width="30" height="30"/><rect x="1600.5" y="1079.7" width="30" height="30"/><rect x="1602.5" y="1079.7" width="30" height="30"/><rect x="1604.5" y="1079.7" width="30" height="30"/><rect x="1606.5" y="1081.5" width="30" height="30"/><rect x="1608.5" y="1081.5" width="30" height="30"/><rect x="1610.5" y="1081.5" width="30" height="30"/><rect x="1612.5" y="1081.5" width="30" height="30"/><rect x="1614.5" y="1081.5" width="30" height="30"/><rect x="1616.5" y="1081.5" width="30" height="30"/><rect x="1618.5" y="1081.5" width="30" height="30"/><rect x="1620.5" y="1081.5" width="30" height="30"/><rect x="1622.5" y="1081.5" width="30" height="30"/><rect x="1624.5" y="1081.5" width="30" height="30"/><rect x="1626.5" y="1081.5" width="30" height="30"/><rect x="1628.5" y="1081.5" width="30" height="30"/><rect x="1630.5" y="1081.5" width="30" height="30"/><rect x="1632.5" y="1081.5" width="30" height="30"/><rect x="1634.5" y="1081.5" width="30" height="30"/><rect x="1636.5" y="1081.5" width="30" height="30"/><rect x="1638.5" y="1081.5" width="30" height="30"/><rect x="1640.5" y="1081.5" width="30" height="30"/><rect x="1642.5" y="1081.5" width="30" height="30"/><rect x="1644.5" y="1081.5" width="30" height="30"/><rect x="1646.5" y="1081.5" width="30" height="30"/><rect x="1648.5" y="1081.5" width="30" height="30"/><rect x="1650.5" y="1081.5" width="30" height="30"/><rect x="1652.5" y="1081.5" width="30" height="30"/><rect x="1654.5" y="1081.5" width="30" height="30"/><rect x="1656.5" y="1081.5" width="30" height="30"/><rect x="1658.5" y="1081.5" width="30" height="30"/><rect x="1660.5" y="1081.5" width="30" height="30"/><rect x="1662.5" y="1081.5" width="30" height="30"/><rect x="1664.5" y="1081.5" width="30" height="30"/><rect x="1666.5" y="1081.5" width="30" height="30"/>
</g>
<g id="tin-wire" fill="#fff" stroke="#f14040" stroke-width="3">
<circle cx="352.5" cy="1127.8" r="12.5"/><circle cx="354.5" cy="1127.8" r="12.5"/><circle cx="356.5" cy="1127.8" r="12.5"/><circle cx="358.5" cy="1127.8" r="12.5"/><circle cx="360.5" cy="1127.8" r="12.5"/><circle cx="362.5" cy="1127.8" r="12.5"/><circle cx="364.5" cy="1127.8" r="12.5"/><circle cx="366.5" cy="1127.8" r="12.5"/><circle cx="368.5" cy="1127.8" r="12.5"/><circle cx="370.5" cy="1127.8" r="12.5"/><circle cx="372.5" cy="1127.8" r="12.5"/><circle cx="374.5" cy="1127.8" r="12.5"/><circle cx="376.5" cy="1127.6" r="12.5"/><circle cx="378.5" cy="1127.3" r="12.5"/><circle cx="380.5" cy="1127.1" r="12.5"/><circle cx="382.5" cy="1126.8" r="12.5"/><circle cx="384.5" cy="1126.5" r="12.5"/><circle cx="386.5" cy="1126.2" r="12.5"/><circle cx="388.5" cy="1126" r="12.5"/><circle cx="390.5" cy="1125.7" r="12.5"/><circle cx="392.5" cy="1125.4" r="12.5"/><circle cx="394.5" cy="1125.2" r="12.5"/><circle cx="396.5" cy="1124.9" r="12.5"/><circle cx="398.5" cy="1124.6" r="12.5"/><circle cx="400.5" cy="1124.3" r="12.5"/><circle cx="402.5" cy="1124.1" r="12.5"/><circle cx="404.5" cy="1123.8" r="12.5"/><circle cx="406.5" cy="1123.5" r="12.5"/><circle cx="408.5" cy="1123.2" r="12.5"/><circle cx="410.5" cy="1123" r="12.5"/><circle cx="412.5" cy="1122.7" r="12.5"/><circle cx="414.5" cy="1122.6" r="12.5"/><circle cx="416.5" cy="1123.1" r="12.5"/><circle cx="418.5" cy="1123.6" r="12.5"/><circle cx="420.5" cy="1124.1" r="12.5"/><circle cx="422.5" cy="1124.6" r="12.5"/><circle cx="424.5" cy="1125.2" r="12.5"/><circle cx="426.5" cy="1125.7" r="12.5"/><circle cx="428.5" cy="1126.2" r="12.5"/><circle cx="430.5" cy="1126.7" r="12.5"/><circle cx="432.5" cy="1127.2" r="12.5"/><circle cx="434.5" cy="1127.7" r="12.5"/><circle cx="436.5" cy="1127.8" r="12.5"/><circle cx="438.5" cy="1127.8" r="12.5"/><circle cx="440.5" cy="1127.8" r="12.5"/><circle cx="442.5" cy="1127.8" r="12.5"/><circle cx="444.5" cy="1127.8" r="12.5"/><circle cx="446.5" cy="1127.8" r="12.5"/><circle cx="448.5" cy="1127.8" r="12.5"/><circle cx="450.5" cy="1127.8" r="12.5"/><circle cx="452.5" cy="1127.8" r="12.5"/><circle cx="454.5" cy="1127.8" r="12.5"/><circle cx="456.5" cy="1127.6" r="12.5"/><circle cx="458.5" cy="1127.2" r="12.5"/><circle cx="460.5" cy="1126.9" r="12.5"/><circle cx="462.5" cy="1126.6" r="12.5"/><circle cx="464.5" cy="1126.2" r="12.5"/><circle cx="466.5" cy="1125.9" r="12.5"/><circle cx="468.5" cy="1125.6" r="12.5"/><circle cx="470.5" cy="1125.2" r="12.5"/><circle cx="472.5" cy="1124.9" r="12.5"/><circle cx="474.5" cy="1124.6" r="12.5"/><circle cx="476.5" cy="1124.2" r="12.5"/><circle cx="478.5" cy="1123.9" r="12.5"/><circle cx="480.5" cy="1123.6" r="12.5"/><circle cx="482.5" cy="1123.2" r="12.5"/><circle cx="484.5" cy="1122.9" r="12.5"/><circle cx="486.5" cy="1122.6" r="12.5"/><circle cx="488.5" cy="1122.2" r="12.5"/><circle cx="490.5" cy="1122" r="12.5"/><circle cx="492.5" cy="1121.9" r="12.5"/><circle cx="494.5" cy="1121.8" r="12.5"/><circle cx="496.5" cy="1121.7" r="12.5"/><circle cx="498.5" cy="1121.6" r="12.5"/><circle cx="500.5" cy="1121.6" r="12.5"/><circle cx="502.5" cy="1121.9" r="12.5"/><circle cx="504.5" cy="1122.3" r="12.5"/><circle cx="506.5" cy="1122.6" r="12.5"/><circle cx="508.5" cy="1122.9" r="12.5"/><circle cx="510.5" cy="1123.3" r="12.5"/><circle cx="512.5" cy="1123.6" r="12.5"/><circle cx="514.5" cy="1123.9" r="12.5"/><circle cx="516.5" cy="1124.3" r="12.5"/><circle cx="518.5" cy="1124.6" r="12.5"/><circle cx="520.5" cy="1124.9" r="12.5"/><circle cx="522.5" cy="1125.3" r="12.5"/><circle cx="524.5" cy="1125.6" r="12.5"/><circle cx="526.5" cy="1125.5" r="12.5"/><circle cx="528.5" cy="1125.3" r="12.5"/><circle cx="530.5" cy="1125.1" r="12.5"/><circle cx="532.5" cy="1124.9" r="12.5"/><circle cx="534.5" cy="1124.6" r="12.5"/><circle cx="536.5" cy="1124.4" r="12.5"/><circle cx="538.5" cy="1124.2" r="12.5"/><circle cx="540.5" cy="1124" r="12.5"/><circle cx="542.5" cy="1123.7" r="12.5"/><circle cx="544.5" cy="1123.5" r="12.5"/><circle cx="546.5" cy="1123.3" r="12.5"/><circle cx="548.5" cy="1123" r="12.5"/><circle cx="550.5" cy="1122.8" r="12.5"/><circle cx="552.5" cy="1122.6" r="12.5"/><circle cx="554.5" cy="1122.4" r="12.5"/><circle cx="556.5" cy="1122.3" r="12.5"/><circle cx="558.5" cy="1122.9" r="12.5"/><circle cx="560.5" cy="1123.4" r="12.5"/><circle cx="562.5" cy="1123.9" r="12.5"/><circle cx="564.5" cy="1124.5" r="12.5"/><circle cx="566.5" cy="1125" r="12.5"/><circle cx="568.5" cy="1125.5" r="12.5"/><circle cx="570.5" cy="1126.1" r="12.5"/><circle cx="572.5" cy="1126.6" r="12.5"/><circle cx="574.5" cy="1127.1" r="12.5"/><circle cx="576.5" cy="1127.7" r="12.5"/><circle cx="578.5" cy="1127.8" r="12.5"/><circle cx="580.5" cy="1127.8" r="12.5"/><circle cx="582.5" cy="1127.8" r="12.5"/><circle cx="584.5" cy="1127.8" r="12.5"/><circle cx="586.5" cy="1127.8" r="12.5"/><circle cx="588.5" cy="1127.8" r="12.5"/><circle cx="590.5" cy="1127.8" r="12.5"/><circle cx="592.5" cy="1127.8" r="12.5"/><circle cx="594.5" cy="1127.8" r="12.5"/><circle cx="596.5" cy="1127.6" r="12.5"/><circle cx="598.5" cy="1127.3" r="12.5"/><circle cx="600.5" cy="1127" r="12.5"/><circle cx="602.5" cy="1126.7" r="12.5"/><circle cx="604.5" cy="1126.4" r="12.5"/><circle cx="606.5" cy="1126.1" r="12.5"/><circle cx="608.5" cy="1125.8" r="12.5"/><circle cx="610.5" cy="1125.5" r="12.5"/><circle cx="612.5" cy="1125.2" r="12.5"/><circle cx="614.5" cy="1125" r="12.5"/><circle cx="616.5" cy="1124.7" r="12.5"/><circle cx="618.5" cy="1124.4" r="12.5"/><circle cx="620.5" cy="1124.1" r="12.5"/><circle cx="622.5" cy="1123.9" r="12.5"/><circle cx="624.5" cy="1123.6" r="12.5"/><circle cx="626.5" cy="1123.4" r="12.5"/><circle cx="628.5" cy="1123.1" r="12.5"/><circle cx="630.5" cy="1122.9" r="12.5"/><circle cx="632.5" cy="1122.6" r="12.5"/><circle cx="634.5" cy="1122.4" r="12.5"/><circle cx="636.5" cy="1122.1" r="12.5"/><circle cx="638.5" cy="1121.9" r="12.5"/><circle cx="640.5" cy="1121.6" r="12.5"/><circle cx="642.5" cy="1121.4" r="12.5"/><circle cx="644.5" cy="1121.1" r="12.5"/><circle cx="646.5" cy="1120.9" r="12.5"/><circle cx="648.5" cy="1121" r="12.5"/><circle cx="650.5" cy="1121.3" r="12.5"/><circle cx="652.5" cy="1121.6" r="12.5"/><circle cx="654.5" cy="1121.9" r="12.5"/><circle cx="656.5" cy="1122.2" r="12.5"/><circle cx="658.5" cy="1122.5" r="12.5"/><circle cx="660.5" cy="1122.8" r="12.5"/><circle cx="662.5" cy="1123.1" r="12.5"/><circle cx="664.5" cy="1123.4" r="12.5"/><circle cx="666.5" cy="1123.7" r="12.5"/><circle cx="668.5" cy="1124" r="12.5"/><circle cx="670.5" cy="1124.3" r="12.5"/><circle cx="672.5" cy="1124.6" r="12.5"/><circle cx="674.5" cy="1124.9" r="12.5"/><circle cx="676.5" cy="1125" r="12.5"/><circle cx="678.5" cy="1125" r="12.5"/><circle cx="680.5" cy="1125" r="12.5"/><circle cx="682.5" cy="1125" r="12.5"/><circle cx="684.5" cy="1125" r="12.5"/><circle cx="686.5" cy="1125" r="12.5"/><circle cx="688.5" cy="1125" r="12.5"/><circle cx="690.5" cy="1124.7" r="12.5"/><circle cx="692.5" cy="1124.3" r="12.5"/><circle cx="694.5" cy="1123.9" r="12.5"/><circle cx="696.5" cy="1123.5" r="12.5"/><circle cx="698.5" cy="1123.1" r="12.5"/><circle cx="700.5" cy="1122.7" r="12.5"/><circle cx="702.5" cy="1122.3" r="12.5"/><circle cx="704.5" cy="1121.9" r="12.5"/><circle cx="706.5" cy="1121.5" r="12.5"/><circle cx="708.5" cy="1121.1" r="12.5"/><circle cx="710.9" cy="1120.7" r="12.5"/><circle cx="712.9" cy="1119.8" r="12.5"/><circle cx="712.9" cy="1118.1" r="12.5"/><circle cx="714.9" cy="1117.8" r="12.5"/><circle cx="714.9" cy="1116" r="12.5"/><circle cx="714.9" cy="1114.1" r="12.5"/><circle cx="714.9" cy="1112" r="12.5"/><circle cx="714.9" cy="1109.9" r="12.5"/><circle cx="714.9" cy="1107.4" r="12.5"/><circle cx="716.9" cy="1106.3" r="12.5"/><circle cx="716.9" cy="1103.1" r="12.5"/><circle cx="716.9" cy="1099.3" r="12.5"/><circle cx="716.9" cy="1094.8" r="12.5"/><circle cx="716.9" cy="1089.6" r="12.5"/><circle cx="716.9" cy="1083.5" r="12.5"/><circle cx="716.9" cy="1076.5" r="12.5"/><circle cx="716.9" cy="1068.5" r="12.5"/><circle cx="716.9" cy="1060.4" r="12.5"/><circle cx="716.9" cy="1052.4" r="12.5"/><circle cx="716.9" cy="1044.5" r="12.5"/><circle cx="718.9" cy="1036.6" r="12.5"/><circle cx="718.9" cy="1028.6" r="12.5"/><circle cx="718.9" cy="1020.7" r="12.5"/><circle cx="718.9" cy="1012.7" r="12.5"/><circle cx="718.9" cy="1004.8" r="12.5"/><circle cx="718.9" cy="997" r="12.5"/><circle cx="718.9" cy="989.1" r="12.5"/><circle cx="718.9" cy="981.2" r="12.5"/><circle cx="720.9" cy="975.1" r="12.5"/><circle cx="720.9" cy="967.3" r="12.5"/><circle cx="720.9" cy="959.5" r="12.5"/><circle cx="720.9" cy="951.6" r="12.5"/><circle cx="720.9" cy="943.7" r="12.5"/><circle cx="720.9" cy="935.9" r="12.5"/><circle cx="720.9" cy="928.1" r="12.5"/><circle cx="720.9" cy="920.2" r="12.5"/><circle cx="720.9" cy="912.4" r="12.5"/><circle cx="722.9" cy="910.8" r="12.5"/><circle cx="722.9" cy="903" r="12.5"/><circle cx="722.9" cy="895.1" r="12.5"/><circle cx="722.9" cy="887.2" r="12.5"/><circle cx="722.9" cy="879.4" r="12.5"/><circle cx="722.9" cy="871.6" r="12.5"/><circle cx="722.9" cy="863.7" r="12.5"/><circle cx="722.9" cy="855.9" r="12.5"/><circle cx="722.9" cy="848.1" r="12.5"/><circle cx="722.9" cy="840.4" r="12.5"/><circle cx="724.9" cy="833.2" r="12.5"/><circle cx="724.9" cy="825.4" r="12.5"/><circle cx="724.9" cy="817.5" r="12.5"/><circle cx="724.9" cy="809.7" r="12.5"/><circle cx="724.9" cy="801.8" r="12.5"/><circle cx="724.9" cy="794" r="12.5"/><circle cx="724.9" cy="786.1" r="12.5"/><circle cx="724.9" cy="778.3" r="12.5"/><circle cx="724.9" cy="770.5" r="12.5"/><circle cx="724.9" cy="762.7" r="12.5"/><circle cx="724.9" cy="754.9" r="12.5"/><circle cx="724.9" cy="747.2" r="12.5"/><circle cx="726.9" cy="745.9" r="12.5"/><circle cx="726.9" cy="738.2" r="12.5"/><circle cx="726.9" cy="730.5" r="12.5"/><circle cx="726.9" cy="722.7" r="12.5"/><circle cx="726.9" cy="715" r="12.5"/><circle cx="726.9" cy="707.3" r="12.5"/><circle cx="726.9" cy="699.4" r="12.5"/><circle cx="726.9" cy="691.6" r="12.5"/><circle cx="726.9" cy="683.8" r="12.5"/><circle cx="726.9" cy="676.1" r="12.5"/><circle cx="726.9" cy="668.4" r="12.5"/><circle cx="726.9" cy="660.6" r="12.5"/><circle cx="728.9" cy="655.9" r="12.5"/><circle cx="728.9" cy="648.2" r="12.5"/><circle cx="728.9" cy="640.4" r="12.5"/><circle cx="728.9" cy="632.5" r="12.5"/><circle cx="728.9" cy="624.7" r="12.5"/><circle cx="728.9" cy="617" r="12.5"/><circle cx="728.9" cy="609.3" r="12.5"/><circle cx="728.9" cy="601.5" r="12.5"/><circle cx="728.9" cy="593.9" r="12.5"/><circle cx="728.9" cy="586.1" r="12.5"/><circle cx="728.9" cy="578.4" r="12.5"/><circle cx="728.9" cy="570.6" r="12.5"/><circle cx="728.9" cy="562.9" r="12.5"/><circle cx="730.9" cy="558.2" r="12.5"/><circle cx="730.9" cy="550.5" r="12.5"/><circle cx="730.9" cy="542.7" r="12.5"/><circle cx="730.9" cy="534.9" r="12.5"/><circle cx="730.9" cy="527.1" r="12.5"/><circle cx="730.9" cy="519.4" r="12.5"/><circle cx="730.9" cy="511.6" r="12.5"/><circle cx="730.9" cy="503.9" r="12.5"/><circle cx="730.9" cy="496" r="12.5"/><circle cx="730.9" cy="488.3" r="12.5"/><circle cx="730.9" cy="480.6" r="12.5"/><circle cx="730.9" cy="473" r="12.5"/><circle cx="730.9" cy="465.3" r="12.5"/><circle cx="732.9" cy="459.9" r="12.5"/><circle cx="732.9" cy="452.2" r="12.5"/><circle cx="732.9" cy="444.7" r="12.5"/><circle cx="732.9" cy="437.2" r="12.5"/><circle cx="732.9" cy="429.9" r="12.5"/><circle cx="732.9" cy="422.6" r="12.5"/><circle cx="732.9" cy="415.5" r="12.5"/><circle cx="734.9" cy="413.6" r="12.5"/><circle cx="734.9" cy="406.6" r="12.5"/><circle cx="734.9" cy="399.7" r="12.5"/><circle cx="734.9" cy="392.9" r="12.5"/><circle cx="734.9" cy="386.2" r="12.5"/><circle cx="734.9" cy="379.6" r="12.5"/><circle cx="736.9" cy="377.9" r="12.5"/><circle cx="736.9" cy="371.4" r="12.5"/><circle cx="736.9" cy="365" r="12.5"/><circle cx="736.9" cy="358.6" r="12.5"/><circle cx="736.9" cy="352.3" r="12.5"/><circle cx="736.9" cy="346.1" r="12.5"/><circle cx="736.9" cy="340" r="12.5"/><circle cx="736.9" cy="334" r="12.5"/><circle cx="738.9" cy="332.5" r="12.5"/><circle cx="738.9" cy="326.6" r="12.5"/><circle cx="738.9" cy="320.8" r="12.5"/><circle cx="738.9" cy="315.1" r="12.5"/><circle cx="738.9" cy="309.4" r="12.5"/><circle cx="738.9" cy="303.8" r="12.5"/><circle cx="738.9" cy="298.3" r="12.5"/><circle cx="738.9" cy="293" r="12.5"/><circle cx="740.9" cy="291.7" r="12.5"/><circle cx="740.9" cy="286.5" r="12.5"/><circle cx="740.9" cy="281.5" r="12.5"/><circle cx="740.9" cy="276.5" r="12.5"/><circle cx="740.9" cy="271.7" r="12.5"/><circle cx="740.9" cy="267" r="12.5"/><circle cx="740.9" cy="262.4" r="12.5"/><circle cx="742.9" cy="257.9" r="12.5"/><circle cx="742.9" cy="253.5" r="12.5"/><circle cx="742.9" cy="249.2" r="12.5"/><circle cx="742.9" cy="245.1" r="12.5"/><circle cx="742.9" cy="241" r="12.5"/><circle cx="742.9" cy="237.1" r="12.5"/><circle cx="744.9" cy="235.1" r="12.5"/><circle cx="744.9" cy="231.3" r="12.5"/><circle cx="744.9" cy="227.6" r="12.5"/><circle cx="744.9" cy="224" r="12.5"/><circle cx="744.9" cy="220.5" r="12.5"/><circle cx="746.9" cy="219.3" r="12.5"/><circle cx="746.9" cy="215.9" r="12.5"/><circle cx="746.9" cy="212.6" r="12.5"/><circle cx="746.9" cy="209.3" r="12.5"/><circle cx="748.9" cy="207.9" r="12.5"/><circle cx="748.9" cy="204.8" r="12.5"/><circle cx="748.9" cy="201.7" r="12.5"/><circle cx="748.9" cy="198.8" r="12.5"/><circle cx="750.9" cy="198" r="12.5"/><circle cx="750.9" cy="195.2" r="12.5"/><circle cx="750.9" cy="192.4" r="12.5"/><circle cx="750.9" cy="189.7" r="12.5"/><circle cx="752.9" cy="188.3" r="12.5"/><circle cx="752.9" cy="185.8" r="12.5"/><circle cx="752.9" cy="183.3" r="12.5"/><circle cx="752.9" cy="180.8" r="12.5"/><circle cx="754.9" cy="180" r="12.5"/><circle cx="754.9" cy="177.6" r="12.5"/><circle cx="754.9" cy="175.4" r="12.5"/><circle cx="756.9" cy="173.9" r="12.5"/><circle cx="756.9" cy="171.7" r="12.5"/><circle cx="756.9" cy="169.6" r="12.5"/><circle cx="758.9" cy="168.9" r="12.5"/><circle cx="758.9" cy="166.8" r="12.5"/><circle cx="760.9" cy="165.2" r="12.5"/><circle cx="760.9" cy="163.3" r="12.5"/><circle cx="762.9" cy="162.8" r="12.5"/><circle cx="762.9" cy="161" r="12.5"/><circle cx="764.9" cy="160.9" r="12.5"/><circle cx="766.9" cy="159.4" r="12.5"/><circle cx="768.9" cy="158" r="12.5"/><circle cx="770.9" cy="156.9" r="12.5"/><circle cx="772.9" cy="155.8" r="12.5"/><circle cx="774.9" cy="154.8" r="12.5"/><circle cx="776.9" cy="153.9" r="12.5"/><circle cx="778.9" cy="153" r="12.5"/><circle cx="780.9" cy="152.3" r="12.5"/><circle cx="782.9" cy="151.6" r="12.5"/><circle cx="784.9" cy="151" r="12.5"/><circle cx="786.9" cy="150.5" r="12.5"/><circle cx="788.9" cy="150" r="12.5"/><circle cx="790.9" cy="149.6" r="12.5"/><circle cx="792.9" cy="149.2" r="12.5"/><circle cx="794.9" cy="148.8" r="12.5"/><circle cx="796.9" cy="148.5" r="12.5"/><circle cx="798.9" cy="148.3" r="12.5"/><circle cx="800.9" cy="148.1" r="12.5"/><circle cx="802.9" cy="148" r="12.5"/><circle cx="804.9" cy="147.8" r="12.5"/><circle cx="806.9" cy="147.6" r="12.5"/><circle cx="808.9" cy="147.5" r="12.5"/><circle cx="810.9" cy="147.4" r="12.5"/><circle cx="812.9" cy="147.2" r="12.5"/><circle cx="814.9" cy="147.1" r="12.5"/><circle cx="816.9" cy="147" r="12.5"/><circle cx="818.9" cy="146.9" r="12.5"/><circle cx="820.9" cy="146.8" r="12.5"/><circle cx="822.9" cy="146.8" r="12.5"/><circle cx="824.9" cy="146.7" r="12.5"/><circle cx="826.9" cy="146.7" r="12.5"/><circle cx="828.9" cy="146.6" r="12.5"/><circle cx="830.9" cy="146.6" r="12.5"/><circle cx="832.5" cy="146.6" r="12.5"/><circle cx="834.5" cy="146.6" r="12.5"/><circle cx="836.5" cy="146.6" r="12.5"/><circle cx="838.5" cy="146.6" r="12.5"/><circle cx="840.5" cy="146.6" r="12.5"/><circle cx="842.5" cy="146.6" r="12.5"/><circle cx="844.5" cy="146.6" r="12.5"/><circle cx="846.5" cy="146.6" r="12.5"/><circle cx="848.5" cy="146.6" r="12.5"/><circle cx="850.5" cy="146.6" r="12.5"/><circle cx="852.5" cy="146.6" r="12.5"/><circle cx="854.5" cy="146.6" r="12.5"/><circle cx="856.5" cy="146.6" r="12.5"/><circle cx="858.5" cy="146.6" r="12.5"/><circle cx="860.5" cy="146.6" r="12.5"/><circle cx="862.5" cy="146.6" r="12.5"/><circle cx="864.5" cy="146.6" r="12.5"/><circle cx="866.5" cy="146.6" r="12.5"/><circle cx="868.5" cy="146.6" r="12.5"/><circle cx="870.5" cy="146.6" r="12.5"/><circle cx="872.5" cy="146.6" r="12.5"/><circle cx="874.5" cy="146.6" r="12.5"/><circle cx="876.5" cy="146.2" r="12.5"/><circle cx="878.5" cy="145.2" r="12.5"/><circle cx="880.5" cy="145.2" r="12.5"/><circle cx="882.5" cy="145.2" r="12.5"/><circle cx="884.5" cy="145.2" r="12.5"/><circle cx="886.5" cy="145.2" r="12.5"/><circle cx="888.5" cy="145.2" r="12.5"/><circle cx="890.5" cy="145.2" r="12.5"/><circle cx="892.5" cy="145.2" r="12.5"/><circle cx="894.5" cy="145.2" r="12.5"/><circle cx="896.5" cy="145.2" r="12.5"/><circle cx="898.5" cy="145.2" r="12.5"/><circle cx="900.5" cy="145.2" r="12.5"/><circle cx="902.5" cy="145.2" r="12.5"/><circle cx="904.5" cy="145.2" r="12.5"/><circle cx="906.5" cy="145.2" r="12.5"/><circle cx="908.5" cy="145.2" r="12.5"/><circle cx="910.5" cy="145.2" r="12.5"/><circle cx="912.5" cy="145.2" r="12.5"/><circle cx="914.5" cy="145.2" r="12.5"/><circle cx="916.5" cy="145.2" r="12.5"/><circle cx="918.5" cy="145.2" r="12.5"/><circle cx="920.5" cy="145.2" r="12.5"/><circle cx="922.5" cy="145.2" r="12.5"/><circle cx="924.5" cy="145.2" r="12.5"/><circle cx="926.5" cy="145.2" r="12.5"/><circle cx="928.5" cy="145.2" r="12.5"/><circle cx="930.5" cy="145.2" r="12.5"/><circle cx="932.5" cy="145.2" r="12.5"/><circle cx="934.5" cy="145.2" r="12.5"/><circle cx="936.5" cy="145.2" r="12.5"/><circle cx="938.5" cy="145.2" r="12.5"/><circle cx="940.5" cy="145.2" r="12.5"/><circle cx="942.5" cy="145.2" r="12.5"/><circle cx="944.5" cy="145.2" r="12.5"/><circle cx="946.5" cy="145.2" r="12.5"/><circle cx="948.5" cy="145.2" r="12.5"/><circle cx="950.5" cy="145.2" r="12.5"/><circle cx="952.5" cy="145.2" r="12.5"/><circle cx="954.5" cy="145.2" r="12.5"/><circle cx="956.5" cy="145.2" r="12.5"/><circle cx="958.5" cy="145.2" r="12.5"/><circle cx="960.5" cy="145.2" r="12.5"/><circle cx="962.5" cy="145.2" r="12.5"/><circle cx="964.5" cy="145.2" r="12.5"/><circle cx="966.5" cy="145.2" r="12.5"/><circle cx="968.5" cy="145.2" r="12.5"/><circle cx="970.5" cy="145.2" r="12.5"/><circle cx="972.5" cy="145.2" r="12.5"/><circle cx="974.5" cy="145.2" r="12.5"/><circle cx="976.5" cy="145.2" r="12.5"/><circle cx="978.5" cy="145.2" r="12.5"/><circle cx="980.5" cy="145.2" r="12.5"/><circle cx="982.5" cy="145.2" r="12.5"/><circle cx="984.5" cy="145.2" r="12.5"/><circle cx="986.5" cy="145.2" r="12.5"/><circle cx="988.5" cy="145.2" r="12.5"/><circle cx="990.5" cy="145.2" r="12.5"/><circle cx="992.5" cy="145.2" r="12.5"/><circle cx="994.5" cy="145.2" r="12.5"/><circle cx="996.5" cy="145.2" r="12.5"/><circle cx="998.5" cy="145.2" r="12.5"/><circle cx="1000.5" cy="145.2" r="12.5"/><circle cx="1002.5" cy="145.2" r="12.5"/><circle cx="1004.5" cy="145.2" r="12.5"/><circle cx="1006.5" cy="145.2" r="12.5"/><circle cx="1008.5" cy="145.2" r="12.5"/><circle cx="1010.5" cy="145.2" r="12.5"/><circle cx="1012.5" cy="145.2" r="12.5"/><circle cx="1014.5" cy="145.2" r="12.5"/><circle cx="1016.5" cy="145.2" r="12.5"/><circle cx="1018.5" cy="145.2" r="12.5"/><circle cx="1020.5" cy="145.2" r="12.5"/><circle cx="1022.5" cy="145.2" r="12.5"/><circle cx="1024.5" cy="145.2" r="12.5"/><circle cx="1026.5" cy="145.2" r="12.5"/><circle cx="1028.5" cy="145.2" r="12.5"/><circle cx="1030.5" cy="145.2" r="12.5"/><circle cx="1032.5" cy="145.2" r="12.5"/><circle cx="1034.5" cy="145.2" r="12.5"/><circle cx="1036.5" cy="145.2" r="12.5"/><circle cx="1038.5" cy="145.2" r="12.5"/><circle cx="1040.5" cy="145.2" r="12.5"/><circle cx="1042.5" cy="145.2" r="12.5"/><circle cx="1044.5" cy="145.2" r="12.5"/><circle cx="1046.5" cy="145.2" r="12.5"/><circle cx="1048.5" cy="145.2" r="12.5"/><circle cx="1050.5" cy="145.2" r="12.5"/><circle cx="1052.5" cy="145.2" r="12.5"/><circle cx="1054.5" cy="145.2" r="12.5"/><circle cx="1056.5" cy="145.2" r="12.5"/><circle cx="1058.5" cy="145.2" r="12.5"/><circle cx="1060.5" cy="145.2" r="12.5"/><circle cx="1062.5" cy="145.2" r="12.5"/><circle cx="1064.5" cy="145.2" r="12.5"/><circle cx="1066.5" cy="145.2" r="12.5"/><circle cx="1068.5" cy="145.2" r="12.5"/><circle cx="1070.5" cy="145.2" r="12.5"/><circle cx="1072.5" cy="145.2" r="12.5"/><circle cx="1074.5" cy="145.2" r="12.5"/><circle cx="1076.5" cy="145.2" r="12.5"/><circle cx="1078.5" cy="145.2" r="12.5"/><circle cx="1080.5" cy="145.2" r="12.5"/><circle cx="1082.5" cy="145.2" r="12.5"/><circle cx="1084.5" cy="145.2" r="12.5"/><circle cx="1086.5" cy="145.2" r="12.5"/><circle cx="1088.5" cy="145.2" r="12.5"/><circle cx="1090.5" cy="145.2" r="12.5"/><circle cx="1092.5" cy="145.2" r="12.5"/><circle cx="1094.5" cy="145.2" r="12.5"/><circle cx="1096.5" cy="145.2" r="12.5"/><circle cx="1098.5" cy="145.2" r="12.5"/><circle cx="1100.5" cy="145.2" r="12.5"/><circle cx="1102.5" cy="145.2" r="12.5"/><circle cx="1104.5" cy="145.2" r="12.5"/><circle cx="1106.5" cy="145.2" r="12.5"/><circle cx="1108.5" cy="145.2" r="12.5"/><circle cx="1110.5" cy="145.2" r="12.5"/><circle cx="1112.5" cy="145.2" r="12.5"/><circle cx="1114.5" cy="145.2" r="12.5"/><circle cx="1116.5" cy="145.2" r="12.5"/><circle cx="1118.5" cy="145.2" r="12.5"/><circle cx="1120.5" cy="145.2" r="12.5"/><circle cx="1122.5" cy="145.2" r="12.5"/><circle cx="1124.5" cy="145.2" r="12.5"/><circle cx="1126.5" cy="145.2" r="12.5"/><circle cx="1128.5" cy="145.2" r="12.5"/><circle cx="1130.5" cy="145.2" r="12.5"/><circle cx="1132.5" cy="145.2" r="12.5"/><circle cx="1134.5" cy="145.2" r="12.5"/><circle cx="1136.5" cy="145.2" r="12.5"/><circle cx="1138.5" cy="145.2" r="12.5"/><circle cx="1140.5" cy="145.2" r="12.5"/><circle cx="1142.5" cy="145.2" r="12.5"/><circle cx="1144.5" cy="145.2" r="12.5"/><circle cx="1146.5" cy="145.2" r="12.5"/><circle cx="1148.5" cy="145.2" r="12.5"/><circle cx="1150.5" cy="145.2" r="12.5"/><circle cx="1152.5" cy="145.2" r="12.5"/><circle cx="1154.5" cy="145.2" r="12.5"/><circle cx="1156.5" cy="145.2" r="12.5"/><circle cx="1158.5" cy="145.2" r="12.5"/><circle cx="1160.5" cy="145.2" r="12.5"/><circle cx="1162.5" cy="145.2" r="12.5"/><circle cx="1164.5" cy="145.2" r="12.5"/><circle cx="1166.5" cy="145.2" r="12.5"/><circle cx="1168.5" cy="145.2" r="12.5"/><circle cx="1170.5" cy="145.2" r="12.5"/><circle cx="1172.5" cy="145.2" r="12.5"/><circle cx="1174.5" cy="145.2" r="12.5"/><circle cx="1176.5" cy="145.2" r="12.5"/><circle cx="1178.5" cy="145.2" r="12.5"/><circle cx="1180.5" cy="145.2" r="12.5"/><circle cx="1182.5" cy="145.2" r="12.5"/><circle cx="1184.5" cy="145.2" r="12.5"/><circle cx="1186.5" cy="145.2" r="12.5"/><circle cx="1188.5" cy="145.2" r="12.5"/><circle cx="1190.5" cy="145.2" r="12.5"/><circle cx="1192.5" cy="145.2" r="12.5"/><circle cx="1194.5" cy="145.2" r="12.5"/><circle cx="1196.5" cy="145.2" r="12.5"/><circle cx="1198.5" cy="145.2" r="12.5"/><circle cx="1200.5" cy="145.2" r="12.5"/><circle cx="1202.5" cy="145.2" r="12.5"/><circle cx="1204.5" cy="145.2" r="12.5"/><circle cx="1206.5" cy="145.2" r="12.5"/><circle cx="1208.5" cy="145.2" r="12.5"/><circle cx="1210.5" cy="145.2" r="12.5"/><circle cx="1212.5" cy="145.2" r="12.5"/><circle cx="1214.5" cy="145.2" r="12.5"/><circle cx="1216.5" cy="145.2" r="12.5"/><circle cx="1218.5" cy="145.2" r="12.5"/><circle cx="1220.5" cy="145.2" r="12.5"/><circle cx="1222.5" cy="145.2" r="12.5"/><circle cx="1224.5" cy="145.2" r="12.5"/><circle cx="1226.5" cy="145.2" r="12.5"/><circle cx="1228.5" cy="145.2" r="12.5"/><circle cx="1230.5" cy="145.2" r="12.5"/><circle cx="1232.5" cy="145.2" r="12.5"/><circle cx="1234.5" cy="145.2" r="12.5"/><circle cx="1236.5" cy="145.2" r="12.5"/><circle cx="1238.5" cy="145.2" r="12.5"/><circle cx="1240.5" cy="145.2" r="12.5"/><circle cx="1242.5" cy="145.2" r="12.5"/><circle cx="1244.5" cy="145.2" r="12.5"/><circle cx="1246.5" cy="145.2" r="12.5"/><circle cx="1248.5" cy="145.2" r="12.5"/><circle cx="1250.5" cy="145.2" r="12.5"/><circle cx="1252.5" cy="145.2" r="12.5"/><circle cx="1254.5" cy="145.2" r="12.5"/><circle cx="1256.5" cy="145.2" r="12.5"/><circle cx="1258.5" cy="145.2" r="12.5"/><circle cx="1260.5" cy="145.2" r="12.5"/><circle cx="1262.5" cy="145.2" r="12.5"/><circle cx="1264.5" cy="145.2" r="12.5"/><circle cx="1266.5" cy="145.2" r="12.5"/><circle cx="1268.5" cy="145.2" r="12.5"/><circle cx="1270.5" cy="145.2" r="12.5"/><circle cx="1272.5" cy="145.2" r="12.5"/><circle cx="1274.5" cy="145.2" r="12.5"/><circle cx="1276.5" cy="145.2" r="12.5"/><circle cx="1278.5" cy="145.2" r="12.5"/><circle cx="1280.5" cy="145.2" r="12.5"/><circle cx="1282.5" cy="145.2" r="12.5"/><circle cx="1284.5" cy="145.2" r="12.5"/><circle cx="1286.5" cy="145.2" r="12.5"/><circle cx="1288.5" cy="145.2" r="12.5"/><circle cx="1290.5" cy="145.2" r="12.5"/><circle cx="1292.5" cy="145.2" r="12.5"/><circle cx="1294.5" cy="145.2" r="12.5"/><circle cx="1296.5" cy="145.2" r="12.5"/><circle cx="1298.5" cy="145.2" r="12.5"/><circle cx="1300.5" cy="145.2" r="12.5"/><circle cx="1302.5" cy="145.2" r="12.5"/><circle cx="1304.5" cy="145.2" r="12.5"/><circle cx="1306.5" cy="145.2" r="12.5"/><circle cx="1308.5" cy="145.2" r="12.5"/><circle cx="1310.5" cy="145.2" r="12.5"/><circle cx="1312.5" cy="145.2" r="12.5"/><circle cx="1314.5" cy="145.2" r="12.5"/><circle cx="1315.5" cy="155.3" r="12.5"/><circle cx="1315.5" cy="166.6" r="12.5"/><circle cx="1315.5" cy="180.3" r="12.5"/><circle cx="1315.5" cy="196.8" r="12.5"/><circle cx="1317.5" cy="205" r="12.5"/><circle cx="1317.5" cy="224" r="12.5"/><circle cx="1317.5" cy="244.2" r="12.5"/><circle cx="1317.5" cy="264.2" r="12.5"/><circle cx="1317.5" cy="284.1" r="12.5"/><circle cx="1317.5" cy="303.6" r="12.5"/><circle cx="1317.5" cy="323.3" r="12.5"/><circle cx="1319.5" cy="340" r="12.5"/><circle cx="1319.5" cy="359.3" r="12.5"/><circle cx="1319.5" cy="378.5" r="12.5"/><circle cx="1319.5" cy="397.3" r="12.5"/><circle cx="1319.5" cy="416.1" r="12.5"/><circle cx="1319.5" cy="434.4" r="12.5"/><circle cx="1319.5" cy="452.5" r="12.5"/><circle cx="1319.5" cy="470.7" r="12.5"/><circle cx="1319.5" cy="488.3" r="12.5"/><circle cx="1321.5" cy="499.3" r="12.5"/><circle cx="1321.5" cy="516.7" r="12.5"/><circle cx="1321.5" cy="534.1" r="12.5"/><circle cx="1321.5" cy="550.8" r="12.5"/><circle cx="1321.5" cy="567.4" r="12.5"/><circle cx="1321.5" cy="583.5" r="12.5"/><circle cx="1321.5" cy="599.1" r="12.5"/><circle cx="1321.5" cy="614.5" r="12.5"/><circle cx="1321.5" cy="629.6" r="12.5"/><circle cx="1321.5" cy="644.1" r="12.5"/><circle cx="1323.5" cy="654.6" r="12.5"/><circle cx="1323.5" cy="668.5" r="12.5"/><circle cx="1323.5" cy="682.1" r="12.5"/><circle cx="1323.5" cy="695.4" r="12.5"/><circle cx="1323.5" cy="708.4" r="12.5"/><circle cx="1323.5" cy="720.8" r="12.5"/><circle cx="1323.5" cy="732.8" r="12.5"/><circle cx="1323.5" cy="744.5" r="12.5"/><circle cx="1323.5" cy="755.8" r="12.5"/><circle cx="1323.5" cy="766.8" r="12.5"/><circle cx="1323.5" cy="777.4" r="12.5"/><circle cx="1325.5" cy="784.8" r="12.5"/><circle cx="1325.5" cy="795" r="12.5"/><circle cx="1325.5" cy="804.9" r="12.5"/><circle cx="1325.5" cy="814.4" r="12.5"/><circle cx="1325.5" cy="823.6" r="12.5"/><circle cx="1325.5" cy="832.5" r="12.5"/><circle cx="1325.5" cy="841.1" r="12.5"/><circle cx="1325.5" cy="849.5" r="12.5"/><circle cx="1325.5" cy="857.6" r="12.5"/><circle cx="1327.5" cy="862.9" r="12.5"/><circle cx="1327.5" cy="870.6" r="12.5"/><circle cx="1327.5" cy="877.9" r="12.5"/><circle cx="1327.5" cy="885" r="12.5"/><circle cx="1327.5" cy="891.8" r="12.5"/><circle cx="1327.5" cy="898.5" r="12.5"/><circle cx="1327.5" cy="904.8" r="12.5"/><circle cx="1329.5" cy="910" r="12.5"/><circle cx="1329.5" cy="915.9" r="12.5"/><circle cx="1329.5" cy="921.7" r="12.5"/><circle cx="1329.5" cy="927.3" r="12.5"/><circle cx="1329.5" cy="932.6" r="12.5"/><circle cx="1329.5" cy="937.7" r="12.5"/><circle cx="1329.5" cy="942.6" r="12.5"/><circle cx="1329.5" cy="947.4" r="12.5"/><circle cx="1329.5" cy="952.1" r="12.5"/><circle cx="1331.5" cy="952.2" r="12.5"/><circle cx="1331.5" cy="956.6" r="12.5"/><circle cx="1331.5" cy="961" r="12.5"/><circle cx="1331.5" cy="965.2" r="12.5"/><circle cx="1331.5" cy="969.3" r="12.5"/><circle cx="1331.5" cy="973.2" r="12.5"/><circle cx="1331.5" cy="977" r="12.5"/><circle cx="1331.5" cy="980.7" r="12.5"/><circle cx="1331.5" cy="984.3" r="12.5"/><circle cx="1331.5" cy="987.7" r="12.5"/><circle cx="1331.5" cy="991.1" r="12.5"/><circle cx="1333.5" cy="993.2" r="12.5"/><circle cx="1333.5" cy="996.3" r="12.5"/><circle cx="1333.5" cy="999.4" r="12.5"/><circle cx="1333.5" cy="1002.4" r="12.5"/><circle cx="1333.5" cy="1005.4" r="12.5"/><circle cx="1333.5" cy="1008.3" r="12.5"/><circle cx="1333.5" cy="1011.2" r="12.5"/><circle cx="1333.5" cy="1014" r="12.5"/><circle cx="1333.5" cy="1016.7" r="12.5"/><circle cx="1333.5" cy="1019.5" r="12.5"/><circle cx="1333.5" cy="1022.1" r="12.5"/><circle cx="1333.5" cy="1024.8" r="12.5"/><circle cx="1333.5" cy="1027.4" r="12.5"/><circle cx="1333.5" cy="1029.9" r="12.5"/><circle cx="1335.5" cy="1030" r="12.5"/><circle cx="1335.5" cy="1032.5" r="12.5"/><circle cx="1335.5" cy="1034.9" r="12.5"/><circle cx="1335.5" cy="1037.3" r="12.5"/><circle cx="1335.5" cy="1039.7" r="12.5"/><circle cx="1335.5" cy="1042" r="12.5"/><circle cx="1335.5" cy="1044.3" r="12.5"/><circle cx="1335.5" cy="1046.5" r="12.5"/><circle cx="1337.5" cy="1048.3" r="12.5"/><circle cx="1337.5" cy="1050.5" r="12.5"/><circle cx="1337.5" cy="1052.6" r="12.5"/><circle cx="1337.5" cy="1054.7" r="12.5"/><circle cx="1337.5" cy="1056.8" r="12.5"/><circle cx="1337.5" cy="1058.8" r="12.5"/><circle cx="1337.5" cy="1060.8" r="12.5"/><circle cx="1339.5" cy="1061.4" r="12.5"/><circle cx="1339.5" cy="1063.3" r="12.5"/><circle cx="1339.5" cy="1065.3" r="12.5"/><circle cx="1339.5" cy="1067.2" r="12.5"/><circle cx="1339.5" cy="1069.1" r="12.5"/><circle cx="1339.5" cy="1071" r="12.5"/><circle cx="1341.5" cy="1072.1" r="12.5"/><circle cx="1341.5" cy="1073.9" r="12.5"/><circle cx="1341.5" cy="1075.7" r="12.5"/><circle cx="1341.5" cy="1077.5" r="12.5"/><circle cx="1341.5" cy="1079.3" r="12.5"/><circle cx="1341.5" cy="1081" r="12.5"/><circle cx="1343.5" cy="1081.7" r="12.5"/><circle cx="1343.5" cy="1083.4" r="12.5"/><circle cx="1343.5" cy="1085.1" r="12.5"/><circle cx="1343.5" cy="1086.7" r="12.5"/><circle cx="1343.5" cy="1088.4" r="12.5"/><circle cx="1343.5" cy="1090" r="12.5"/><circle cx="1345.5" cy="1090.1" r="12.5"/><circle cx="1345.5" cy="1091.7" r="12.5"/><circle cx="1345.5" cy="1093.3" r="12.5"/><circle cx="1345.5" cy="1094.8" r="12.5"/><circle cx="1345.5" cy="1096.4" r="12.5"/><circle cx="1347.5" cy="1097.5" r="12.5"/><circle cx="1347.5" cy="1099" r="12.5"/><circle cx="1347.5" cy="1100.5" r="12.5"/><circle cx="1347.5" cy="1102" r="12.5"/><circle cx="1347.5" cy="1103.5" r="12.5"/><circle cx="1349.5" cy="1104.1" r="12.5"/><circle cx="1349.5" cy="1105.6" r="12.5"/><circle cx="1349.5" cy="1107.1" r="12.5"/><circle cx="1349.5" cy="1108.6" r="12.5"/><circle cx="1349.5" cy="1110.1" r="12.5"/><circle cx="1351.5" cy="1110.1" r="12.5"/><circle cx="1351.5" cy="1111.6" r="12.5"/><circle cx="1351.5" cy="1113.1" r="12.5"/><circle cx="1351.5" cy="1114.6" r="12.5"/><circle cx="1353.5" cy="1115.7" r="12.5"/><circle cx="1353.5" cy="1117.2" r="12.5"/><circle cx="1353.5" cy="1118.7" r="12.5"/><circle cx="1353.5" cy="1120.3" r="12.5"/><circle cx="1355.5" cy="1120.6" r="12.5"/><circle cx="1355.5" cy="1122.1" r="12.5"/><circle cx="1355.5" cy="1123.6" r="12.5"/><circle cx="1357.5" cy="1124.5" r="12.5"/><circle cx="1357.5" cy="1126" r="12.5"/><circle cx="1357.5" cy="1127.5" r="12.5"/><circle cx="1359.5" cy="1127.6" r="12.5"/><circle cx="1359.5" cy="1129.1" r="12.5"/><circle cx="1361.5" cy="1130.5" r="12.5"/><circle cx="1361.5" cy="1132" r="12.5"/><circle cx="1363.5" cy="1132.9" r="12.5"/><circle cx="1363.5" cy="1134.4" r="12.5"/><circle cx="1365.5" cy="1134.5" r="12.5"/><circle cx="1367.5" cy="1135.1" r="12.5"/><circle cx="1369.5" cy="1135.5" r="12.5"/><circle cx="1371.5" cy="1135.9" r="12.5"/><circle cx="1373.5" cy="1136.1" r="12.5"/><circle cx="1375.5" cy="1136.4" r="12.5"/><circle cx="1377.5" cy="1136.6" r="12.5"/><circle cx="1379.5" cy="1136.8" r="12.5"/><circle cx="1381.5" cy="1136.9" r="12.5"/><circle cx="1383.5" cy="1137.1" r="12.5"/><circle cx="1385.5" cy="1137.2" r="12.5"/><circle cx="1387.5" cy="1137.3" r="12.5"/><circle cx="1389.5" cy="1137.4" r="12.5"/><circle cx="1391.5" cy="1137.5" r="12.5"/><circle cx="1393.5" cy="1137.6" r="12.5"/><circle cx="1395.5" cy="1137.7" r="12.5"/><circle cx="1397.5" cy="1137.8" r="12.5"/><circle cx="1399.5" cy="1137.9" r="12.5"/><circle cx="1401.5" cy="1138" r="12.5"/><circle cx="1403.5" cy="1138" r="12.5"/><circle cx="1405.5" cy="1138.1" r="12.5"/><circle cx="1407.5" cy="1138.2" r="12.5"/><circle cx="1409.5" cy="1138.2" r="12.5"/><circle cx="1411.5" cy="1138.3" r="12.5"/><circle cx="1413.5" cy="1138.3" r="12.5"/><circle cx="1415.5" cy="1138.4" r="12.5"/><circle cx="1417.5" cy="1138.5" r="12.5"/><circle cx="1419.5" cy="1138.5" r="12.5"/><circle cx="1421.5" cy="1138.6" r="12.5"/><circle cx="1423.5" cy="1138.7" r="12.5"/><circle cx="1425.5" cy="1138.7" r="12.5"/><circle cx="1427.5" cy="1138.8" r="12.5"/><circle cx="1429.5" cy="1138.8" r="12.5"/><circle cx="1431.5" cy="1138.9" r="12.5"/><circle cx="1433.5" cy="1139" r="12.5"/><circle cx="1435.5" cy="1139" r="12.5"/><circle cx="1437.5" cy="1139.1" r="12.5"/><circle cx="1439.5" cy="1139.1" r="12.5"/><circle cx="1441.5" cy="1139.2" r="12.5"/><circle cx="1443.5" cy="1139.3" r="12.5"/><circle cx="1445.5" cy="1139.3" r="12.5"/><circle cx="1447.5" cy="1139.4" r="12.5"/><circle cx="1449.5" cy="1139.4" r="12.5"/><circle cx="1451.5" cy="1139.5" r="12.5"/><circle cx="1453.5" cy="1139.6" r="12.5"/><circle cx="1455.5" cy="1139.6" r="12.5"/><circle cx="1457.5" cy="1139.7" r="12.5"/><circle cx="1459.5" cy="1139.7" r="12.5"/><circle cx="1461.5" cy="1139.8" r="12.5"/><circle cx="1463.5" cy="1139.9" r="12.5"/><circle cx="1465.5" cy="1139.9" r="12.5"/><circle cx="1467.5" cy="1140" r="12.5"/><circle cx="1469.5" cy="1140.1" r="12.5"/><circle cx="1471.5" cy="1140.1" r="12.5"/><circle cx="1473.5" cy="1140.2" r="12.5"/><circle cx="1475.5" cy="1140.2" r="12.5"/><circle cx="1477.5" cy="1140.3" r="12.5"/><circle cx="1479.5" cy="1140.4" r="12.5"/><circle cx="1481.5" cy="1140.4" r="12.5"/><circle cx="1483.5" cy="1140.5" r="12.5"/><circle cx="1485.5" cy="1140.5" r="12.5"/><circle cx="1487.5" cy="1140.6" r="12.5"/><circle cx="1489.5" cy="1140.7" r="12.5"/><circle cx="1491.5" cy="1140.7" r="12.5"/><circle cx="1493.5" cy="1140.8" r="12.5"/><circle cx="1495.5" cy="1140.8" r="12.5"/><circle cx="1497.5" cy="1140.9" r="12.5"/><circle cx="1499.5" cy="1141" r="12.5"/><circle cx="1501.5" cy="1141" r="12.5"/><circle cx="1503.5" cy="1141.1" r="12.5"/><circle cx="1505.5" cy="1141.1" r="12.5"/><circle cx="1507.5" cy="1141.2" r="12.5"/><circle cx="1509.5" cy="1141.3" r="12.5"/><circle cx="1511.5" cy="1141.3" r="12.5"/><circle cx="1513.5" cy="1141.4" r="12.5"/><circle cx="1515.5" cy="1141.5" r="12.5"/><circle cx="1517.5" cy="1141.5" r="12.5"/><circle cx="1519.5" cy="1141.6" r="12.5"/><circle cx="1521.5" cy="1141.6" r="12.5"/><circle cx="1523.5" cy="1141.7" r="12.5"/><circle cx="1525.5" cy="1141.8" r="12.5"/><circle cx="1527.5" cy="1141.8" r="12.5"/><circle cx="1529.5" cy="1141.9" r="12.5"/><circle cx="1531.5" cy="1141.9" r="12.5"/><circle cx="1533.5" cy="1142" r="12.5"/><circle cx="1535.5" cy="1142.1" r="12.5"/><circle cx="1537.5" cy="1142.1" r="12.5"/><circle cx="1539.5" cy="1142.2" r="12.5"/><circle cx="1541.5" cy="1142.2" r="12.5"/><circle cx="1543.5" cy="1142.3" r="12.5"/><circle cx="1545.5" cy="1142.4" r="12.5"/><circle cx="1547.5" cy="1142.4" r="12.5"/><circle cx="1549.5" cy="1142.5" r="12.5"/><circle cx="1551.5" cy="1142.5" r="12.5"/><circle cx="1553.5" cy="1142.6" r="12.5"/><circle cx="1555.5" cy="1142.7" r="12.5"/><circle cx="1557.5" cy="1142.7" r="12.5"/><circle cx="1559.5" cy="1142.8" r="12.5"/><circle cx="1561.5" cy="1142.9" r="12.5"/><circle cx="1563.5" cy="1142.9" r="12.5"/><circle cx="1565.5" cy="1143" r="12.5"/><circle cx="1567.5" cy="1143" r="12.5"/><circle cx="1569.5" cy="1143.1" r="12.5"/><circle cx="1571.5" cy="1143.2" r="12.5"/><circle cx="1573.5" cy="1143.2" r="12.5"/><circle cx="1575.5" cy="1143.3" r="12.5"/><circle cx="1577.5" cy="1143.3" r="12.5"/><circle cx="1579.5" cy="1143.4" r="12.5"/><circle cx="1581.5" cy="1143.5" r="12.5"/><circle cx="1583.5" cy="1143.5" r="12.5"/><circle cx="1585.5" cy="1143.6" r="12.5"/><circle cx="1587.5" cy="1143.6" r="12.5"/><circle cx="1589.5" cy="1143.7" r="12.5"/><circle cx="1591.5" cy="1143.8" r="12.5"/><circle cx="1593.5" cy="1143.8" r="12.5"/><circle cx="1595.5" cy="1143.9" r="12.5"/><circle cx="1597.5" cy="1143.9" r="12.5"/><circle cx="1599.5" cy="1144" r="12.5"/><circle cx="1601.5" cy="1144.1" r="12.5"/><circle cx="1603.5" cy="1144.1" r="12.5"/><circle cx="1605.5" cy="1144.2" r="12.5"/><circle cx="1607.5" cy="1144.2" r="12.5"/><circle cx="1609.5" cy="1144.3" r="12.5"/><circle cx="1611.5" cy="1144.4" r="12.5"/><circle cx="1613.5" cy="1144.4" r="12.5"/><circle cx="1615.5" cy="1144.5" r="12.5"/><circle cx="1617.5" cy="1144.6" r="12.5"/><circle cx="1619.5" cy="1144.6" r="12.5"/><circle cx="1621.5" cy="1144.7" r="12.5"/><circle cx="1623.5" cy="1144.7" r="12.5"/><circle cx="1625.5" cy="1144.8" r="12.5"/><circle cx="1627.5" cy="1144.9" r="12.5"/><circle cx="1629.5" cy="1144.9" r="12.5"/><circle cx="1631.5" cy="1145" r="12.5"/><circle cx="1633.5" cy="1145" r="12.5"/><circle cx="1635.5" cy="1145.1" r="12.5"/><circle cx="1637.5" cy="1145.2" r="12.5"/><circle cx="1639.5" cy="1145.2" r="12.5"/><circle cx="1641.5" cy="1145.3" r="12.5"/><circle cx="1643.5" cy="1145.3" r="12.5"/><circle cx="1645.5" cy="1145.4" r="12.5"/><circle cx="1647.5" cy="1145.5" r="12.5"/><circle cx="1649.5" cy="1145.5" r="12.5"/><circle cx="1651.5" cy="1145.6" r="12.5"/><circle cx="1653.5" cy="1145.6" r="12.5"/><circle cx="1655.5" cy="1145.7" r="12.5"/><circle cx="1657.5" cy="1145.8" r="12.5"/><circle cx="1659.5" cy="1145.8" r="12.5"/><circle cx="1661.5" cy="1145.9" r="12.5"/><circle cx="1663.5" cy="1146" r="12.5"/><circle cx="1665.5" cy="1146" r="12.5"/><circle cx="1667.5" cy="1146.1" r="12.5"/><circle cx="1669.5" cy="1146.1" r="12.5"/><circle cx="1671.5" cy="1146.2" r="12.5"/><circle cx="1673.5" cy="1146.3" r="12.5"/><circle cx="1675.5" cy="1146.3" r="12.5"/><circle cx="1677.5" cy="1146.4" r="12.5"/><circle cx="1679.5" cy="1146.4" r="12.5"/><circle cx="1681.5" cy="1146.5" r="12.5"/>
</g>
<g id="tin-paste" fill="#1a6fdf">
<path d="M351.9 1101.7h1.2l14.4 25h-30zM353.9 1099.8h1.2l14.4 25h-30zM353.9 1096.6h1.2l14.4 25h-30zM355.9 1099.8h1.2l14.4 25h-30zM355.9 1094.4h1.2l14.4 25h-30zM357.9 1099.8h1.2l14.4 25h-30zM359.9 1099.8h1.2l14.4 25h-30zM359.9 1095.1h1.2l14.4 25h-30zM361.9 1099.8h1.2l14.4 25h-30zM361.9 1095.1h1.2l14.4 25h-30zM363.9 1099.8h1.2l14.4 25h-30zM365.9 1099.8h1.2l14.4 25h-30zM367.9 1099.8h1.2l14.4 25h-30zM367.9 1093.1h1.2l14.4 25h-30zM369.9 1099.8h1.2l14.4 25h-30zM369.9 1093.1h1.2l14.4 25h-30zM371.9 1099.8h1.2l14.4 25h-30zM371.9 1093.1h1.2l14.4 25h-30zM373.9 1099.8h1.2l14.4 25h-30zM375.9 1099.8h1.2l14.4 25h-30zM375.9 1095.1h1.2l14.4 25h-30zM377.9 1099.8h1.2l14.4 25h-30zM377.9 1095.1h1.2l14.4 25h-30zM379.9 1099.8h1.2l14.4 25h-30zM381.9 1099.8h1.2l14.4 25h-30zM383.9 1099.8h1.2l14.4 25h-30zM383.9 1093.1h1.2l14.4 25h-30zM385.9 1099.8h1.2l14.4 25h-30zM385.9 1093.1h1.2l14.4 25h-30zM387.9 1099.8h1.2l14.4 25h-30zM387.9 1093.1h1.2l14.4 25h-30zM389.9 1099.8h1.2l14.4 25h-30zM391.9 1099.8h1.2l14.4 25h-30zM391.9 1095.1h1.2l14.4 25h-30zM393.9 1099.8h1.2l14.4 25h-30zM393.9 1095.1h1.2l14.4 25h-30zM395.9 1099.8h1.2l14.4 25h-30zM397.9 1099.8h1.2l14.4 25h-30zM399.9 1099.8h1.2l14.4 25h-30zM399.9 1093.1h1.2l14.4 25h-30zM401.9 1099.8h1.2l14.4 25h-30zM401.9 1093.1h1.2l14.4 25h-30zM403.9 1099.8h1.2l14.4 25h-30zM403.9 1093.1h1.2l14.4 25h-30zM405.9 1099.8h1.2l14.4 25h-30zM407.9 1099.8h1.2l14.4 25h-30zM407.9 1095.1h1.2l14.4 25h-30zM409.9 1099.8h1.2l14.4 25h-30zM409.9 1095.1h1.2l14.4 25h-30zM411.9 1099.8h1.2l14.4 25h-30zM413.9 1099.8h1.2l14.4 25h-30zM415.9 1099.8h1.2l14.4 25h-30zM415.9 1093.1h1.2l14.4 25h-30zM417.9 1099.8h1.2l14.4 25h-30zM417.9 1093.1h1.2l14.4 25h-30zM419.9 1099.8h1.2l14.4 25h-30zM419.9 1093.1h1.2l14.4 25h-30zM421.9 1099.8h1.2l14.4 25h-30zM423.9 1099.8h1.2l14.4 25h-30zM423.9 1095.1h1.2l14.4 25h-30zM425.9 1099.8h1.2l14.4 25h-30zM425.9 1095.1h1.2l14.4 25h-30zM427.9 1099.8h1.2l14.4 25h-30zM429.9 1099.8h1.2l14.4 25h-30zM431.9 1099.8h1.2l14.4 25h-30zM431.9 1093.1h1.2l14.4 25h-30zM433.9 1099.8h1.2l14.4 25h-30zM433.9 1093.1h1.2l14.4 25h-30zM435.9 1099.8h1.2l14.4 25h-30zM435.9 1093.1h1.2l14.4 25h-30zM437.9 1099.8h1.2l14.4 25h-30zM439.9 1099.8h1.2l14.4 25h-30zM439.9 1095.1h1.2l14.4 25h-30zM441.9 1099.8h1.2l14.4 25h-30zM441.9 1095.1h1.2l14.4 25h-30zM443.9 1099.8h1.2l14.4 25h-30zM445.9 1099.8h1.2l14.4 25h-30zM447.9 1099.8h1.2l14.4 25h-30zM447.9 1093.1h1.2l14.4 25h-30zM449.9 1099.8h1.2l14.4 25h-30zM449.9 1093.1h1.2l14.4 25h-30zM451.9 1099.8h1.2l14.4 25h-30zM451.9 1093.1h1.2l14.4 25h-30zM453.9 1099.8h1.2l14.4 25h-30zM455.9 1099.8h1.2l14.4 25h-30zM455.9 1095.1h1.2l14.4 25h-30zM457.9 1099.8h1.2l14.4 25h-30zM457.9 1095.1h1.2l14.4 25h-30zM459.9 1099.8h1.2l14.4 25h-30zM461.9 1099.8h1.2l14.4 25h-30zM463.9 1099.8h1.2l14.4 25h-30zM463.9 1093.1h1.2l14.4 25h-30zM465.9 1099.8h1.2l14.4 25h-30zM465.9 1093.1h1.2l14.4 25h-30zM467.9 1099.8h1.2l14.4 25h-30zM467.9 1093.1h1.2l14.4 25h-30zM469.9 1099.8h1.2l14.4 25h-30zM471.9 1099.8h1.2l14.4 25h-30zM471.9 1095.1h1.2l14.4 25h-30zM473.9 1099.8h1.2l14.4 25h-30zM473.9 1095.1h1.2l14.4 25h-30zM475.9 1099.8h1.2l14.4 25h-30zM477.9 1099.8h1.2l14.4 25h-30zM479.9 1099.8h1.2l14.4 25h-30zM479.9 1093.1h1.2l14.4 25h-30zM481.9 1099.8h1.2l14.4 25h-30zM481.9 1093.1h1.2l14.4 25h-30zM483.9 1099.8h1.2l14.4 25h-30zM483.9 1093.1h1.2l14.4 25h-30zM485.9 1099.8h1.2l14.4 25h-30zM487.9 1099.8h1.2l14.4 25h-30zM487.9 1095.1h1.2l14.4 25h-30zM489.9 1099.8h1.2l14.4 25h-30zM489.9 1095.1h1.2l14.4 25h-30zM491.9 1099.8h1.2l14.4 25h-30zM493.9 1099.8h1.2l14.4 25h-30zM495.9 1099.8h1.2l14.4 25h-30zM495.9 1093.1h1.2l14.4 25h-30zM497.9 1099.8h1.2l14.4 25h-30zM497.9 1093.1h1.2l14.4 25h-30zM499.9 1099.8h1.2l14.4 25h-30zM499.9 1093.1h1.2l14.4 25h-30zM501.9 1099.8h1.2l14.4 25h-30zM503.9 1099.8h1.2l14.4 25h-30zM503.9 1095.1h1.2l14.4 25h-30zM505.9 1099.8h1.2l14.4 25h-30zM505.9 1095.1h1.2l14.4 25h-30zM507.9 1099.8h1.2l14.4 25h-30zM509.9 1099.8h1.2l14.4 25h-30zM511.9 1099.8h1.2l14.4 25h-30zM511.9 1093.1h1.2l14.4 25h-30zM513.9 1099.8h1.2l14.4 25h-30zM513.9 1093.1h1.2l14.4 25h-30zM515.9 1099.8h1.2l14.4 25h-30zM515.9 1093.1h1.2l14.4 25h-30zM517.9 1099.8h1.2l14.4 25h-30zM519.9 1099.8h1.2l14.4 25h-30zM519.9 1095.1h1.2l14.4 25h-30zM521.9 1099.8h1.2l14.4 25h-30zM521.9 1095.1h1.2l14.4 25h-30zM523.9 1099.8h1.2l14.4 25h-30zM525.9 1099.8h1.2l14.4 25h-30zM527.9 1099.8h1.2l14.4 25h-30zM527.9 1093.1h1.2l14.4 25h-30zM529.9 1099.8h1.2l14.4 25h-30zM529.9 1093.1h1.2l14.4 25h-30zM531.9 1099.8h1.2l14.4 25h-30zM531.9 1093.1h1.2l14.4 25h-30zM533.9 1099.8h1.2l14.4 25h-30zM535.9 1099.8h1.2l14.4 25h-30z"/><path d="M535.9 1095.1h1.2l14.4 25h-30zM537.9 1099.8h1.2l14.4 25h-30zM537.9 1095.1h1.2l14.4 25h-30zM539.9 1099.8h1.2l14.4 25h-30zM541.9 1099.8h1.2l14.4 25h-30zM543.9 1099.8h1.2l14.4 25h-30zM543.9 1093.1h1.2l14.4 25h-30zM545.9 1099.8h1.2l14.4 25h-30zM545.9 1093.1h1.2l14.4 25h-30zM547.9 1099.8h1.2l14.4 25h-30zM547.9 1093.1h1.2l14.4 25h-30zM549.9 1099.8h1.2l14.4 25h-30zM551.9 1099.8h1.2l14.4 25h-30zM551.9 1095.1h1.2l14.4 25h-30zM553.9 1099.8h1.2l14.4 25h-30zM553.9 1095.1h1.2l14.4 25h-30zM555.9 1099.8h1.2l14.4 25h-30zM557.9 1099.8h1.2l14.4 25h-30zM559.9 1099.8h1.2l14.4 25h-30zM559.9 1093.1h1.2l14.4 25h-30zM561.9 1099.8h1.2l14.4 25h-30zM561.9 1093.1h1.2l14.4 25h-30zM563.9 1099.8h1.2l14.4 25h-30zM563.9 1093.1h1.2l14.4 25h-30zM565.9 1099.8h1.2l14.4 25h-30zM567.9 1099.8h1.2l14.4 25h-30zM567.9 1095.1h1.2l14.4 25h-30zM569.9 1099.8h1.2l14.4 25h-30zM569.9 1095.1h1.2l14.4 25h-30zM571.9 1099.8h1.2l14.4 25h-30zM573.9 1099.8h1.2l14.4 25h-30zM575.9 1099.8h1.2l14.4 25h-30zM575.9 1093.1h1.2l14.4 25h-30zM577.9 1099.8h1.2l14.4 25h-30zM577.9 1093.1h1.2l14.4 25h-30zM579.9 1099.8h1.2l14.4 25h-30zM579.9 1093.1h1.2l14.4 25h-30zM581.9 1099.8h1.2l14.4 25h-30zM583.9 1099.8h1.2l14.4 25h-30zM583.9 1095.1h1.2l14.4 25h-30zM585.9 1099.8h1.2l14.4 25h-30zM585.9 1095.1h1.2l14.4 25h-30zM587.9 1099.8h1.2l14.4 25h-30zM589.9 1099.8h1.2l14.4 25h-30zM591.9 1099.8h1.2l14.4 25h-30zM591.9 1093.1h1.2l14.4 25h-30zM593.9 1099.8h1.2l14.4 25h-30zM593.9 1093.1h1.2l14.4 25h-30zM595.9 1099.8h1.2l14.4 25h-30zM595.9 1093.1h1.2l14.4 25h-30zM597.9 1099.8h1.2l14.4 25h-30zM599.9 1099.8h1.2l14.4 25h-30zM599.9 1095.1h1.2l14.4 25h-30zM601.9 1099.8h1.2l14.4 25h-30zM601.9 1095.1h1.2l14.4 25h-30zM603.9 1099.8h1.2l14.4 25h-30zM605.9 1099.8h1.2l14.4 25h-30zM607.9 1099.8h1.2l14.4 25h-30zM607.9 1093.1h1.2l14.4 25h-30zM609.9 1099.8h1.2l14.4 25h-30zM609.9 1093.1h1.2l14.4 25h-30zM611.9 1099.8h1.2l14.4 25h-30zM611.9 1093.1h1.2l14.4 25h-30zM613.9 1099.8h1.2l14.4 25h-30zM615.9 1099.8h1.2l14.4 25h-30zM615.9 1095.1h1.2l14.4 25h-30zM617.9 1099.8h1.2l14.4 25h-30zM617.9 1095.1h1.2l14.4 25h-30zM619.9 1099.8h1.2l14.4 25h-30zM621.9 1099.8h1.2l14.4 25h-30zM623.9 1099.8h1.2l14.4 25h-30zM623.9 1093.1h1.2l14.4 25h-30zM625.9 1099.8h1.2l14.4 25h-30zM625.9 1093.1h1.2l14.4 25h-30zM627.9 1099.8h1.2l14.4 25h-30zM627.9 1093.1h1.2l14.4 25h-30zM629.9 1099.8h1.2l14.4 25h-30zM631.9 1099.8h1.2l14.4 25h-30zM631.9 1095.1h1.2l14.4 25h-30zM633.9 1099.8h1.2l14.4 25h-30zM633.9 1095.1h1.2l14.4 25h-30zM635.9 1099.8h1.2l14.4 25h-30zM637.9 1099.8h1.2l14.4 25h-30zM639.9 1099.8h1.2l14.4 25h-30zM639.9 1093.1h1.2l14.4 25h-30zM641.9 1099.8h1.2l14.4 25h-30zM641.9 1093.1h1.2l14.4 25h-30zM643.9 1099.8h1.2l14.4 25h-30zM643.9 1093.1h1.2l14.4 25h-30zM645.9 1099.8h1.2l14.4 25h-30zM647.9 1099.8h1.2l14.4 25h-30zM647.9 1095.1h1.2l14.4 25h-30zM649.9 1099.8h1.2l14.4 25h-30zM649.9 1095.1h1.2l14.4 25h-30zM651.9 1099.8h1.2l14.4 25h-30zM653.9 1099.8h1.2l14.4 25h-30zM655.9 1099.8h1.2l14.4 25h-30zM655.9 1093.1h1.2l14.4 25h-30zM657.9 1099.8h1.2l14.4 25h-30zM657.9 1093.1h1.2l14.4 25h-30zM659.9 1099.8h1.2l14.4 25h-30zM659.9 1093.1h1.2l14.4 25h-30zM661.9 1099.8h1.2l14.4 25h-30zM663.9 1099.8h1.2l14.4 25h-30zM663.9 1095.1h1.2l14.4 25h-30zM665.9 1099.8h1.2l14.4 25h-30zM665.9 1095.1h1.2l14.4 25h-30zM667.9 1099.8h1.2l14.4 25h-30zM669.9 1099.8h1.2l14.4 25h-30zM671.9 1099.8h1.2l14.4 25h-30zM671.9 1093.1h1.2l14.4 25h-30zM673.9 1099.8h1.2l14.4 25h-30zM673.9 1093.1h1.2l14.4 25h-30zM675.9 1099.8h1.2l14.4 25h-30zM675.9 1093.1h1.2l14.4 25h-30zM677.9 1099.8h1.2l14.4 25h-30zM679.9 1099.8h1.2l14.4 25h-30zM679.9 1095.1h1.2l14.4 25h-30zM681.9 1099.8h1.2l14.4 25h-30zM681.9 1095.1h1.2l14.4 25h-30zM683.9 1099.8h1.2l14.4 25h-30zM685.9 1099.8h1.2l14.4 25h-30zM687.9 1099.8h1.2l14.4 25h-30zM687.9 1093.1h1.2l14.4 25h-30zM689.9 1099.8h1.2l14.4 25h-30zM689.9 1093.1h1.2l14.4 25h-30zM691.9 1099.8h1.2l14.4 25h-30zM691.9 1093.1h1.2l14.4 25h-30zM693.9 1099.8h1.2l14.4 25h-30zM695.9 1099.8h1.2l14.4 25h-30zM695.9 1095.1h1.2l14.4 25h-30zM697.9 1099.8h1.2l14.4 25h-30zM697.9 1095.1h1.2l14.4 25h-30zM699.9 1099.8h1.2l14.4 25h-30zM701.9 1099.8h1.2l14.4 25h-30zM703.9 1099.8h1.2l14.4 25h-30zM703.9 1093.1h1.2l14.4 25h-30zM705.9 1099.8h1.2l14.4 25h-30zM705.9 1093.1h1.2l14.4 25h-30zM707.9 1099.8h1.2l14.4 25h-30zM707.9 1093.1h1.2l14.4 25h-30zM708.3 1099.8h1.2l14.4 25h-30zM710.3 1099.4h1.2l14.4 25h-30zM710.3 1097.8h1.2l14.4 25h-30zM712.3 1097.8h1.2l14.4 25h-30zM712.3 1096h1.2l14.4 25h-30zM712.3 1094.2h1.2l14.4 25h-30zM712.3 1092.3h1.2l14.4 25h-30zM712.3 1090.2h1.2l14.4 25h-30zM712.3 1087.9h1.2l14.4 25h-30z"/><path d="M712.3 1085.3h1.2l14.4 25h-30zM712.3 1082.3h1.2l14.4 25h-30zM712.3 1078.5h1.2l14.4 25h-30zM712.3 1074.1h1.2l14.4 25h-30zM714.3 1070.5h1.2l14.4 25h-30zM714.3 1064.8h1.2l14.4 25h-30zM714.3 1058.1h1.2l14.4 25h-30zM714.3 1050.2h1.2l14.4 25h-30zM714.3 1042.3h1.2l14.4 25h-30zM714.3 1034.2h1.2l14.4 25h-30zM714.3 1026.3h1.2l14.4 25h-30zM714.3 1018.3h1.2l14.4 25h-30zM714.3 1010.4h1.2l14.4 25h-30zM714.3 1002.6h1.2l14.4 25h-30zM716.3 1001h1.2l14.4 25h-30zM716.3 993.1h1.2l14.4 25h-30zM716.3 985.3h1.2l14.4 25h-30zM716.3 977.4h1.2l14.4 25h-30zM716.3 969.5h1.2l14.4 25h-30zM716.3 961.7h1.2l14.4 25h-30zM716.3 953.8h1.2l14.4 25h-30zM716.3 946h1.2l14.4 25h-30zM718.3 944h1.2l14.4 25h-30zM718.3 936.1h1.2l14.4 25h-30zM718.3 928.2h1.2l14.4 25h-30zM718.3 920.3h1.2l14.4 25h-30zM718.3 912.5h1.2l14.4 25h-30zM718.3 904.7h1.2l14.4 25h-30zM718.3 896.8h1.2l14.4 25h-30zM718.3 888.9h1.2l14.4 25h-30zM718.3 881.1h1.2l14.4 25h-30zM718.3 873.3h1.2l14.4 25h-30zM718.3 865.4h1.2l14.4 25h-30zM720.3 863.4h1.2l14.4 25h-30zM720.3 855.5h1.2l14.4 25h-30zM720.3 847.7h1.2l14.4 25h-30zM720.3 840h1.2l14.4 25h-30zM720.3 832.2h1.2l14.4 25h-30zM720.3 824.4h1.2l14.4 25h-30zM720.3 816.6h1.2l14.4 25h-30zM720.3 808.8h1.2l14.4 25h-30zM720.3 801.1h1.2l14.4 25h-30zM722.3 799.3h1.2l14.4 25h-30zM722.3 791.5h1.2l14.4 25h-30zM722.3 783.7h1.2l14.4 25h-30zM722.3 775.9h1.2l14.4 25h-30zM722.3 768.1h1.2l14.4 25h-30zM722.3 760.3h1.2l14.4 25h-30zM722.3 752.5h1.2l14.4 25h-30zM722.3 744.7h1.2l14.4 25h-30zM722.3 736.9h1.2l14.4 25h-30zM724.3 732.4h1.2l14.4 25h-30zM724.3 724.6h1.2l14.4 25h-30zM724.3 716.8h1.2l14.4 25h-30zM724.3 709h1.2l14.4 25h-30zM724.3 701.2h1.2l14.4 25h-30zM724.3 693.5h1.2l14.4 25h-30zM724.3 685.7h1.2l14.4 25h-30zM724.3 677.9h1.2l14.4 25h-30zM724.3 670.1h1.2l14.4 25h-30zM726.3 664h1.2l14.4 25h-30zM726.3 656.2h1.2l14.4 25h-30zM726.3 648.4h1.2l14.4 25h-30zM726.3 640.7h1.2l14.4 25h-30zM726.3 633h1.2l14.4 25h-30zM726.3 625.3h1.2l14.4 25h-30zM726.3 617.5h1.2l14.4 25h-30zM726.3 609.7h1.2l14.4 25h-30zM726.3 602h1.2l14.4 25h-30zM726.3 594.2h1.2l14.4 25h-30zM726.3 586.4h1.2l14.4 25h-30zM728.3 580.3h1.2l14.4 25h-30zM728.3 572.6h1.2l14.4 25h-30zM728.3 564.8h1.2l14.4 25h-30zM728.3 557.1h1.2l14.4 25h-30zM728.3 549.3h1.2l14.4 25h-30zM728.3 541.7h1.2l14.4 25h-30zM728.3 534h1.2l14.4 25h-30zM728.3 526.3h1.2l14.4 25h-30zM728.3 518.6h1.2l14.4 25h-30zM730.3 513h1.2l14.4 25h-30zM730.3 505.3h1.2l14.4 25h-30zM730.3 497.6h1.2l14.4 25h-30zM730.3 490h1.2l14.4 25h-30zM730.3 482.2h1.2l14.4 25h-30zM730.3 474.6h1.2l14.4 25h-30zM730.3 466.9h1.2l14.4 25h-30zM730.3 459.2h1.2l14.4 25h-30zM730.3 451.6h1.2l14.4 25h-30zM732.3 444h1.2l14.4 25h-30zM732.3 436.3h1.2l14.4 25h-30zM732.3 428.8h1.2l14.4 25h-30zM732.3 421.4h1.2l14.4 25h-30zM732.3 414.1h1.2l14.4 25h-30zM732.3 406.9h1.2l14.4 25h-30zM734.3 401.4h1.2l14.4 25h-30zM734.3 394.4h1.2l14.4 25h-30zM734.3 387.4h1.2l14.4 25h-30zM734.3 380.6h1.2l14.4 25h-30zM734.3 373.8h1.2l14.4 25h-30zM734.3 367.2h1.2l14.4 25h-30zM736.3 365h1.2l14.4 25h-30zM736.3 358.5h1.2l14.4 25h-30zM736.3 352.1h1.2l14.4 25h-30zM736.3 345.8h1.2l14.4 25h-30zM736.3 339.5h1.2l14.4 25h-30zM736.3 333.3h1.2l14.4 25h-30zM738.3 328.9h1.2l14.4 25h-30zM738.3 322.9h1.2l14.4 25h-30zM738.3 317h1.2l14.4 25h-30zM738.3 311.1h1.2l14.4 25h-30zM738.3 305.3h1.2l14.4 25h-30zM738.3 299.6h1.2l14.4 25h-30zM740.3 297.2h1.2l14.4 25h-30zM740.3 291.6h1.2l14.4 25h-30zM740.3 286.1h1.2l14.4 25h-30zM740.3 280.8h1.2l14.4 25h-30zM740.3 275.6h1.2l14.4 25h-30zM740.3 270.5h1.2l14.4 25h-30zM742.3 269.1h1.2l14.4 25h-30zM742.3 264.2h1.2l14.4 25h-30zM742.3 259.3h1.2l14.4 25h-30zM742.3 254.7h1.2l14.4 25h-30zM742.3 250.1h1.2l14.4 25h-30zM742.3 245.6h1.2l14.4 25h-30zM744.3 242.5h1.2l14.4 25h-30zM744.3 238.2h1.2l14.4 25h-30zM744.3 234h1.2l14.4 25h-30zM744.3 230h1.2l14.4 25h-30zM744.3 226h1.2l14.4 25h-30zM746.3 224h1.2l14.4 25h-30zM746.3 220.1h1.2l14.4 25h-30zM746.3 216.4h1.2l14.4 25h-30zM746.3 212.8h1.2l14.4 25h-30zM748.3 211h1.2l14.4 25h-30zM748.3 207.5h1.2l14.4 25h-30zM748.3 204h1.2l14.4 25h-30zM748.3 200.7h1.2l14.4 25h-30zM750.3 200.7h1.2l14.4 25h-30zM750.3 197.4h1.2l14.4 25h-30zM750.3 194.3h1.2l14.4 25h-30zM752.3 192.3h1.2l14.4 25h-30zM752.3 189.3h1.2l14.4 25h-30zM752.3 186.3h1.2l14.4 25h-30zM754.3 185.1h1.2l14.4 25h-30zM754.3 182.3h1.2l14.4 25h-30zM754.3 179.5h1.2l14.4 25h-30zM756.3 178.8h1.2l14.4 25h-30zM756.3 176.1h1.2l14.4 25h-30zM756.3 173.5h1.2l14.4 25h-30z"/><path d="M758.3 173.3h1.2l14.4 25h-30zM758.3 170.8h1.2l14.4 25h-30zM760.3 168.4h1.2l14.4 25h-30zM760.3 166.1h1.2l14.4 25h-30zM762.3 164.2h1.2l14.4 25h-30zM762.3 162h1.2l14.4 25h-30zM764.3 160.4h1.2l14.4 25h-30zM764.3 158.3h1.2l14.4 25h-30zM766.3 156.9h1.2l14.4 25h-30zM766.3 154.9h1.2l14.4 25h-30zM768.3 153.9h1.2l14.4 25h-30zM768.3 151.9h1.2l14.4 25h-30zM770.3 151.2h1.2l14.4 25h-30zM770.3 149.4h1.2l14.4 25h-30zM772.3 149.1h1.2l14.4 25h-30zM772.3 147.3h1.2l14.4 25h-30zM774.3 147.1h1.2l14.4 25h-30zM774.3 145.4h1.2l14.4 25h-30zM776.3 145.3h1.2l14.4 25h-30zM778.3 143.7h1.2l14.4 25h-30zM780.3 142.2h1.2l14.4 25h-30zM782.3 141h1.2l14.4 25h-30zM784.3 140h1.2l14.4 25h-30zM786.3 139.2h1.2l14.4 25h-30zM788.3 138.5h1.2l14.4 25h-30zM790.3 137.9h1.2l14.4 25h-30zM792.3 137.3h1.2l14.4 25h-30zM794.3 136.8h1.2l14.4 25h-30zM796.3 136.3h1.2l14.4 25h-30zM798.3 135.9h1.2l14.4 25h-30zM800.3 135.5h1.2l14.4 25h-30zM802.3 135.2h1.2l14.4 25h-30zM804.3 134.9h1.2l14.4 25h-30zM806.3 134.7h1.2l14.4 25h-30zM808.3 134.4h1.2l14.4 25h-30zM810.3 134.2h1.2l14.4 25h-30zM812.3 134h1.2l14.4 25h-30zM814.3 133.7h1.2l14.4 25h-30zM816.3 133.5h1.2l14.4 25h-30zM818.3 133.2h1.2l14.4 25h-30zM820.3 133h1.2l14.4 25h-30zM822.3 132.7h1.2l14.4 25h-30zM824.3 132.4h1.2l14.4 25h-30zM826.3 132.1h1.2l14.4 25h-30zM828.3 131.8h1.2l14.4 25h-30zM830.3 131.5h1.2l14.4 25h-30zM831.9 131.3h1.2l14.4 25h-30zM832.9 131.2h1.2l14.4 25h-30zM833.9 131.1h1.2l14.4 25h-30zM834.9 131h1.2l14.4 25h-30zM835.9 130.9h1.2l14.4 25h-30zM836.9 130.8h1.2l14.4 25h-30zM837.9 130.7h1.2l14.4 25h-30zM838.9 130.6h1.2l14.4 25h-30zM839.9 130.5h1.2l14.4 25h-30zM840.9 130.4h1.2l14.4 25h-30zM841.9 130.2h1.2l14.4 25h-30zM842.9 130.1h1.2l14.4 25h-30zM843.9 130h1.2l14.4 25h-30zM844.9 129.9h1.2l14.4 25h-30zM845.9 129.8h1.2l14.4 25h-30zM846.9 129.7h1.2l14.4 25h-30zM847.9 129.6h1.2l14.4 25h-30zM848.9 129.5h1.2l14.4 25h-30zM849.9 129.4h1.2l14.4 25h-30zM850.9 129.4h1.2l14.4 25h-30zM851.9 129.3h1.2l14.4 25h-30zM852.9 129.3h1.2l14.4 25h-30zM853.9 129.2h1.2l14.4 25h-30zM854.9 129.2h1.2l14.4 25h-30zM855.9 129.1h1.2l14.4 25h-30zM856.9 129.1h1.2l14.4 25h-30zM857.9 129h1.2l14.4 25h-30zM858.9 129h1.2l14.4 25h-30zM859.9 129h1.2l14.4 25h-30zM860.9 129h1.2l14.4 25h-30zM861.9 129h1.2l14.4 25h-30zM862.9 129h1.2l14.4 25h-30zM863.9 129h1.2l14.4 25h-30zM864.9 129h1.2l14.4 25h-30zM865.9 129h1.2l14.4 25h-30zM866.9 129h1.2l14.4 25h-30zM867.9 129h1.2l14.4 25h-30zM868.9 129h1.2l14.4 25h-30zM869.9 129h1.2l14.4 25h-30zM870.9 129h1.2l14.4 25h-30zM871.9 129h1.2l14.4 25h-30zM872.9 129h1.2l14.4 25h-30zM873.9 129h1.2l14.4 25h-30zM874.9 129h1.2l14.4 25h-30zM875.9 129h1.2l14.4 25h-30zM876.9 129h1.2l14.4 25h-30zM877.9 129h1.2l14.4 25h-30zM878.9 129h1.2l14.4 25h-30zM879.9 129h1.2l14.4 25h-30zM880.9 129h1.2l14.4 25h-30zM881.9 129h1.2l14.4 25h-30zM882.9 129h1.2l14.4 25h-30zM883.9 129h1.2l14.4 25h-30zM884.9 129h1.2l14.4 25h-30zM885.9 129h1.2l14.4 25h-30zM886.9 129h1.2l14.4 25h-30zM887.9 129h1.2l14.4 25h-30zM888.9 129h1.2l14.4 25h-30zM889.9 129h1.2l14.4 25h-30zM890.9 129h1.2l14.4 25h-30zM891.9 129h1.2l14.4 25h-30zM892.9 129h1.2l14.4 25h-30zM893.9 129h1.2l14.4 25h-30zM894.9 129h1.2l14.4 25h-30zM895.9 129h1.2l14.4 25h-30zM896.9 129h1.2l14.4 25h-30zM897.9 129h1.2l14.4 25h-30zM898.9 129h1.2l14.4 25h-30zM899.9 129h1.2l14.4 25h-30zM900.9 129h1.2l14.4 25h-30zM901.9 129h1.2l14.4 25h-30zM902.9 129h1.2l14.4 25h-30zM903.9 129h1.2l14.4 25h-30zM904.9 129h1.2l14.4 25h-30zM905.9 129h1.2l14.4 25h-30zM906.9 129h1.2l14.4 25h-30zM907.9 129h1.2l14.4 25h-30zM908.9 129h1.2l14.4 25h-30zM909.9 129h1.2l14.4 25h-30zM910.9 129h1.2l14.4 25h-30zM911.9 129h1.2l14.4 25h-30zM912.9 129h1.2l14.4 25h-30zM913.9 129h1.2l14.4 25h-30zM914.9 128.6h1.2l14.4 25h-30zM915.9 127.6h1.2l14.4 25h-30zM916.9 127.2h1.2l14.4 25h-30zM917.9 127.2h1.2l14.4 25h-30zM918.9 127.2h1.2l14.4 25h-30zM919.9 127.2h1.2l14.4 25h-30zM920.9 127.2h1.2l14.4 25h-30zM921.9 127.2h1.2l14.4 25h-30zM922.9 127.2h1.2l14.4 25h-30zM923.9 127.2h1.2l14.4 25h-30zM924.9 127.2h1.2l14.4 25h-30zM925.9 127.2h1.2l14.4 25h-30zM926.9 127.2h1.2l14.4 25h-30zM927.9 127.2h1.2l14.4 25h-30zM928.9 127.2h1.2l14.4 25h-30zM929.9 127.2h1.2l14.4 25h-30zM930.9 127.2h1.2l14.4 25h-30zM931.9 127.2h1.2l14.4 25h-30zM932.9 127.2h1.2l14.4 25h-30zM933.9 127.2h1.2l14.4 25h-30zM934.9 127.2h1.2l14.4 25h-30z"/><path d="M935.9 127.2h1.2l14.4 25h-30zM936.9 127.2h1.2l14.4 25h-30zM937.9 127.2h1.2l14.4 25h-30zM938.9 127.2h1.2l14.4 25h-30zM939.9 127.2h1.2l14.4 25h-30zM940.9 127.2h1.2l14.4 25h-30zM941.9 127.2h1.2l14.4 25h-30zM942.9 127.2h1.2l14.4 25h-30zM943.9 127.2h1.2l14.4 25h-30zM944.9 127.2h1.2l14.4 25h-30zM945.9 127.2h1.2l14.4 25h-30zM946.9 127.2h1.2l14.4 25h-30zM947.9 127.2h1.2l14.4 25h-30zM948.9 127.2h1.2l14.4 25h-30zM949.9 127.2h1.2l14.4 25h-30zM950.9 127.2h1.2l14.4 25h-30zM951.9 127.2h1.2l14.4 25h-30zM952.9 127.2h1.2l14.4 25h-30zM953.9 127.2h1.2l14.4 25h-30zM954.9 127.2h1.2l14.4 25h-30zM955.9 127.2h1.2l14.4 25h-30zM956.9 127.2h1.2l14.4 25h-30zM957.9 127.2h1.2l14.4 25h-30zM958.9 127.2h1.2l14.4 25h-30zM959.9 127.2h1.2l14.4 25h-30zM960.9 127.2h1.2l14.4 25h-30zM961.9 127.2h1.2l14.4 25h-30zM962.9 127.2h1.2l14.4 25h-30zM963.9 127.2h1.2l14.4 25h-30zM964.9 127.2h1.2l14.4 25h-30zM965.9 127.2h1.2l14.4 25h-30zM966.9 127.2h1.2l14.4 25h-30zM967.9 127.2h1.2l14.4 25h-30zM968.9 127.2h1.2l14.4 25h-30zM969.9 127.2h1.2l14.4 25h-30zM970.9 127.2h1.2l14.4 25h-30zM971.9 127.2h1.2l14.4 25h-30zM972.9 127.2h1.2l14.4 25h-30zM973.9 127.2h1.2l14.4 25h-30zM974.9 127.2h1.2l14.4 25h-30zM975.9 127.2h1.2l14.4 25h-30zM976.9 127.2h1.2l14.4 25h-30zM977.9 127.2h1.2l14.4 25h-30zM978.9 127.2h1.2l14.4 25h-30zM979.9 127.2h1.2l14.4 25h-30zM980.9 127.2h1.2l14.4 25h-30zM981.9 127.2h1.2l14.4 25h-30zM982.9 127.2h1.2l14.4 25h-30zM983.9 127.2h1.2l14.4 25h-30zM984.9 127.2h1.2l14.4 25h-30zM985.9 127.2h1.2l14.4 25h-30zM986.9 127.2h1.2l14.4 25h-30zM987.9 127.2h1.2l14.4 25h-30zM988.9 127.2h1.2l14.4 25h-30zM989.9 127.2h1.2l14.4 25h-30zM990.9 127.2h1.2l14.4 25h-30zM991.9 127.2h1.2l14.4 25h-30zM992.9 127.2h1.2l14.4 25h-30zM993.9 127.2h1.2l14.4 25h-30zM994.9 127.2h1.2l14.4 25h-30zM995.9 127.2h1.2l14.4 25h-30zM996.9 127.2h1.2l14.4 25h-30zM997.9 127.2h1.2l14.4 25h-30zM998.9 127.2h1.2l14.4 25h-30zM999.9 127.2h1.2l14.4 25h-30zM1000.9 127.2h1.2l14.4 25h-30zM1001.9 127.2h1.2l14.4 25h-30zM1002.9 127.2h1.2l14.4 25h-30zM1003.9 127.2h1.2l14.4 25h-30zM1004.9 127.2h1.2l14.4 25h-30zM1005.9 127.2h1.2l14.4 25h-30zM1006.9 127.2h1.2l14.4 25h-30zM1007.9 127.2h1.2l14.4 25h-30zM1008.9 127.2h1.2l14.4 25h-30zM1009.9 127.2h1.2l14.4 25h-30zM1010.9 127.2h1.2l14.4 25h-30zM1011.9 127.2h1.2l14.4 25h-30zM1012.9 127.2h1.2l14.4 25h-30zM1013.9 127.2h1.2l14.4 25h-30zM1014.9 127.2h1.2l14.4 25h-30zM1015.9 127.2h1.2l14.4 25h-30zM1016.9 127.2h1.2l14.4 25h-30zM1017.9 127.2h1.2l14.4 25h-30zM1018.9 127.2h1.2l14.4 25h-30zM1019.9 127.2h1.2l14.4 25h-30zM1020.9 127.2h1.2l14.4 25h-30zM1021.9 127.2h1.2l14.4 25h-30zM1022.9 127.2h1.2l14.4 25h-30zM1023.9 127.2h1.2l14.4 25h-30zM1024.9 127.2h1.2l14.4 25h-30zM1025.9 127.2h1.2l14.4 25h-30zM1026.9 127.2h1.2l14.4 25h-30zM1027.9 127.2h1.2l14.4 25h-30zM1028.9 127.2h1.2l14.4 25h-30zM1029.9 126.6h1.2l14.4 25h-30zM1030.9 125.6h1.2l14.4 25h-30zM1031.9 125h1.2l14.4 25h-30zM1032.9 125h1.2l14.4 25h-30zM1033.9 125h1.2l14.4 25h-30zM1034.9 125h1.2l14.4 25h-30zM1035.9 125h1.2l14.4 25h-30zM1036.9 125h1.2l14.4 25h-30zM1037.9 125h1.2l14.4 25h-30zM1038.9 125h1.2l14.4 25h-30zM1039.9 125h1.2l14.4 25h-30zM1040.9 125h1.2l14.4 25h-30zM1041.9 125h1.2l14.4 25h-30zM1042.9 125h1.2l14.4 25h-30zM1043.9 125h1.2l14.4 25h-30zM1044.9 125h1.2l14.4 25h-30zM1045.9 125h1.2l14.4 25h-30zM1046.9 125h1.2l14.4 25h-30zM1047.9 125h1.2l14.4 25h-30zM1048.9 125h1.2l14.4 25h-30zM1049.9 125h1.2l14.4 25h-30zM1050.9 125h1.2l14.4 25h-30zM1051.9 125h1.2l14.4 25h-30zM1052.9 125h1.2l14.4 25h-30zM1053.9 125h1.2l14.4 25h-30zM1054.9 125h1.2l14.4 25h-30zM1055.9 125h1.2l14.4 25h-30zM1056.9 125h1.2l14.4 25h-30zM1057.9 125h1.2l14.4 25h-30zM1058.9 125h1.2l14.4 25h-30zM1059.9 125h1.2l14.4 25h-30zM1060.9 125h1.2l14.4 25h-30zM1061.9 125h1.2l14.4 25h-30zM1062.9 125h1.2l14.4 25h-30zM1063.9 125h1.2l14.4 25h-30zM1064.9 125h1.2l14.4 25h-30zM1065.9 125h1.2l14.4 25h-30zM1066.9 125h1.2l14.4 25h-30zM1067.9 125h1.2l14.4 25h-30zM1068.9 125h1.2l14.4 25h-30zM1069.9 125h1.2l14.4 25h-30zM1070.9 125h1.2l14.4 25h-30zM1071.9 125h1.2l14.4 25h-30zM1072.9 125h1.2l14.4 25h-30zM1073.9 125h1.2l14.4 25h-30zM1074.9 125h1.2l14.4 25h-30zM1075.9 125h1.2l14.4 25h-30zM1076.9 125h1.2l14.4 25h-30zM1077.9 125h1.2l14.4 25h-30zM1078.9 125h1.2l14.4 25h-30zM1079.9 125h1.2l14.4 25h-30zM1080.9 125h1.2l14.4 25h-30zM1081.9 125h1.2l14.4 25h-30zM1082.9 125h1.2l14.4 25h-30zM1083.9 125h1.2l14.4 25h-30zM1084.9 125h1.2l14.4 25h-30z"/><path d="M1085.9 125h1.2l14.4 25h-30zM1086.9 125h1.2l14.4 25h-30zM1087.9 125h1.2l14.4 25h-30zM1088.9 125h1.2l14.4 25h-30zM1089.9 125h1.2l14.4 25h-30zM1090.9 125h1.2l14.4 25h-30zM1091.9 125h1.2l14.4 25h-30zM1092.9 125h1.2l14.4 25h-30zM1093.9 125h1.2l14.4 25h-30zM1094.9 125h1.2l14.4 25h-30zM1095.9 125h1.2l14.4 25h-30zM1096.9 125h1.2l14.4 25h-30zM1097.9 125h1.2l14.4 25h-30zM1098.9 125h1.2l14.4 25h-30zM1099.9 125h1.2l14.4 25h-30zM1100.9 125h1.2l14.4 25h-30zM1101.9 125h1.2l14.4 25h-30zM1102.9 125h1.2l14.4 25h-30zM1103.9 125h1.2l14.4 25h-30zM1104.9 125h1.2l14.4 25h-30zM1105.9 125h1.2l14.4 25h-30zM1106.9 125h1.2l14.4 25h-30zM1107.9 125h1.2l14.4 25h-30zM1108.9 125h1.2l14.4 25h-30zM1109.9 125h1.2l14.4 25h-30zM1110.9 125h1.2l14.4 25h-30zM1111.9 125h1.2l14.4 25h-30zM1112.9 125h1.2l14.4 25h-30zM1113.9 125h1.2l14.4 25h-30zM1114.9 125h1.2l14.4 25h-30zM1115.9 125h1.2l14.4 25h-30zM1116.9 125h1.2l14.4 25h-30zM1117.9 125h1.2l14.4 25h-30zM1118.9 125h1.2l14.4 25h-30zM1119.9 125h1.2l14.4 25h-30zM1120.9 125h1.2l14.4 25h-30zM1121.9 125h1.2l14.4 25h-30zM1122.9 125h1.2l14.4 25h-30zM1123.9 125h1.2l14.4 25h-30zM1124.9 125h1.2l14.4 25h-30zM1125.9 125h1.2l14.4 25h-30zM1126.9 125h1.2l14.4 25h-30zM1127.9 125h1.2l14.4 25h-30zM1128.9 125h1.2l14.4 25h-30zM1129.9 125h1.2l14.4 25h-30zM1130.9 125h1.2l14.4 25h-30zM1131.9 125h1.2l14.4 25h-30zM1132.9 125h1.2l14.4 25h-30zM1133.9 125h1.2l14.4 25h-30zM1134.9 125h1.2l14.4 25h-30zM1135.9 125h1.2l14.4 25h-30zM1136.9 125h1.2l14.4 25h-30zM1137.9 125h1.2l14.4 25h-30zM1138.9 125h1.2l14.4 25h-30zM1139.9 125h1.2l14.4 25h-30zM1140.9 125h1.2l14.4 25h-30zM1141.9 125h1.2l14.4 25h-30zM1142.9 125h1.2l14.4 25h-30zM1143.9 125h1.2l14.4 25h-30zM1144.9 125h1.2l14.4 25h-30zM1145.9 125h1.2l14.4 25h-30zM1146.9 125h1.2l14.4 25h-30zM1147.9 125h1.2l14.4 25h-30zM1148.9 125h1.2l14.4 25h-30zM1149.9 125h1.2l14.4 25h-30zM1150.9 125h1.2l14.4 25h-30zM1151.9 125h1.2l14.4 25h-30zM1152.9 125h1.2l14.4 25h-30zM1153.9 125h1.2l14.4 25h-30zM1154.9 125h1.2l14.4 25h-30zM1155.9 125h1.2l14.4 25h-30zM1156.9 125h1.2l14.4 25h-30zM1157.9 125h1.2l14.4 25h-30zM1158.9 125h1.2l14.4 25h-30zM1159.9 125h1.2l14.4 25h-30zM1160.9 125h1.2l14.4 25h-30zM1161.9 125h1.2l14.4 25h-30zM1162.9 125h1.2l14.4 25h-30zM1163.9 125h1.2l14.4 25h-30zM1164.9 125h1.2l14.4 25h-30zM1165.9 125h1.2l14.4 25h-30zM1166.9 125h1.2l14.4 25h-30zM1167.9 125h1.2l14.4 25h-30zM1168.9 125h1.2l14.4 25h-30zM1169.9 125h1.2l14.4 25h-30zM1170.9 125h1.2l14.4 25h-30zM1171.9 125h1.2l14.4 25h-30zM1172.9 125h1.2l14.4 25h-30zM1173.9 125h1.2l14.4 25h-30zM1174.9 125h1.2l14.4 25h-30zM1175.9 125h1.2l14.4 25h-30zM1176.9 125h1.2l14.4 25h-30zM1177.9 125h1.2l14.4 25h-30zM1178.9 125h1.2l14.4 25h-30zM1179.9 125h1.2l14.4 25h-30zM1180.9 125h1.2l14.4 25h-30zM1181.9 125h1.2l14.4 25h-30zM1182.9 125h1.2l14.4 25h-30zM1183.9 125h1.2l14.4 25h-30zM1184.9 125h1.2l14.4 25h-30zM1185.9 125h1.2l14.4 25h-30zM1186.9 125h1.2l14.4 25h-30zM1187.9 125h1.2l14.4 25h-30zM1188.9 125h1.2l14.4 25h-30zM1189.9 125h1.2l14.4 25h-30zM1190.9 125h1.2l14.4 25h-30zM1191.9 125h1.2l14.4 25h-30zM1192.9 125h1.2l14.4 25h-30zM1193.9 125h1.2l14.4 25h-30zM1194.9 125h1.2l14.4 25h-30zM1195.9 125h1.2l14.4 25h-30zM1196.9 125h1.2l14.4 25h-30zM1197.9 125h1.2l14.4 25h-30zM1198.9 125h1.2l14.4 25h-30zM1199.9 125h1.2l14.4 25h-30zM1200.9 125h1.2l14.4 25h-30zM1201.9 125h1.2l14.4 25h-30zM1202.9 125h1.2l14.4 25h-30zM1203.9 125h1.2l14.4 25h-30zM1204.9 125h1.2l14.4 25h-30zM1205.9 125h1.2l14.4 25h-30zM1206.9 125h1.2l14.4 25h-30zM1207.9 125h1.2l14.4 25h-30zM1208.9 125h1.2l14.4 25h-30zM1209.9 125h1.2l14.4 25h-30zM1210.9 125h1.2l14.4 25h-30zM1211.9 125h1.2l14.4 25h-30zM1212.9 125h1.2l14.4 25h-30zM1213.9 125h1.2l14.4 25h-30zM1214.9 125h1.2l14.4 25h-30zM1215.9 125h1.2l14.4 25h-30zM1216.9 125h1.2l14.4 25h-30zM1217.9 125h1.2l14.4 25h-30zM1218.9 125h1.2l14.4 25h-30zM1219.9 125h1.2l14.4 25h-30zM1220.9 125h1.2l14.4 25h-30zM1221.9 125h1.2l14.4 25h-30zM1222.9 125h1.2l14.4 25h-30zM1223.9 125h1.2l14.4 25h-30zM1224.9 125h1.2l14.4 25h-30zM1225.9 125h1.2l14.4 25h-30zM1226.9 125h1.2l14.4 25h-30zM1227.9 125h1.2l14.4 25h-30zM1228.9 125h1.2l14.4 25h-30zM1229.9 125h1.2l14.4 25h-30zM1230.9 125h1.2l14.4 25h-30zM1231.9 125h1.2l14.4 25h-30zM1232.9 125h1.2l14.4 25h-30zM1233.9 125h1.2l14.4 25h-30zM1234.9 125h1.2l14.4 25h-30z"/><path d="M1235.9 125h1.2l14.4 25h-30zM1236.9 125h1.2l14.4 25h-30zM1237.9 125h1.2l14.4 25h-30zM1238.9 125h1.2l14.4 25h-30zM1239.9 125h1.2l14.4 25h-30zM1240.9 125h1.2l14.4 25h-30zM1241.9 125h1.2l14.4 25h-30zM1242.9 125h1.2l14.4 25h-30zM1243.9 125h1.2l14.4 25h-30zM1244.9 125h1.2l14.4 25h-30zM1245.9 125h1.2l14.4 25h-30zM1246.9 125h1.2l14.4 25h-30zM1247.9 125h1.2l14.4 25h-30zM1248.9 125h1.2l14.4 25h-30zM1249.9 125h1.2l14.4 25h-30zM1250.9 125h1.2l14.4 25h-30zM1251.9 125h1.2l14.4 25h-30zM1252.9 125h1.2l14.4 25h-30zM1253.9 125h1.2l14.4 25h-30zM1254.9 125h1.2l14.4 25h-30zM1255.9 125h1.2l14.4 25h-30zM1256.9 125h1.2l14.4 25h-30zM1257.9 125h1.2l14.4 25h-30zM1258.9 125h1.2l14.4 25h-30zM1259.9 125h1.2l14.4 25h-30zM1260.9 125h1.2l14.4 25h-30zM1261.9 125h1.2l14.4 25h-30zM1262.9 125h1.2l14.4 25h-30zM1263.9 125h1.2l14.4 25h-30zM1264.9 125h1.2l14.4 25h-30zM1265.9 125h1.2l14.4 25h-30zM1266.9 125h1.2l14.4 25h-30zM1267.9 125h1.2l14.4 25h-30zM1268.9 125h1.2l14.4 25h-30zM1269.9 125h1.2l14.4 25h-30zM1270.9 125h1.2l14.4 25h-30zM1271.9 125h1.2l14.4 25h-30zM1272.9 125h1.2l14.4 25h-30zM1273.9 125h1.2l14.4 25h-30zM1274.9 125h1.2l14.4 25h-30zM1275.9 125h1.2l14.4 25h-30zM1276.9 125h1.2l14.4 25h-30zM1277.9 125h1.2l14.4 25h-30zM1278.9 125h1.2l14.4 25h-30zM1279.9 125h1.2l14.4 25h-30zM1280.9 125h1.2l14.4 25h-30zM1281.9 125h1.2l14.4 25h-30zM1282.9 125h1.2l14.4 25h-30zM1283.9 125h1.2l14.4 25h-30zM1284.9 125h1.2l14.4 25h-30zM1285.9 125h1.2l14.4 25h-30zM1286.9 125h1.2l14.4 25h-30zM1287.9 125h1.2l14.4 25h-30zM1288.9 125h1.2l14.4 25h-30zM1289.9 125h1.2l14.4 25h-30zM1290.9 125h1.2l14.4 25h-30zM1291.9 125h1.2l14.4 25h-30zM1292.9 125h1.2l14.4 25h-30zM1293.9 125h1.2l14.4 25h-30zM1294.9 125h1.2l14.4 25h-30zM1295.9 125h1.2l14.4 25h-30zM1296.9 125h1.2l14.4 25h-30zM1297.9 125h1.2l14.4 25h-30zM1298.9 125h1.2l14.4 25h-30zM1299.9 125h1.2l14.4 25h-30zM1300.9 125h1.2l14.4 25h-30zM1301.9 125h1.2l14.4 25h-30zM1302.9 125h1.2l14.4 25h-30zM1303.9 125h1.2l14.4 25h-30zM1304.9 125h1.2l14.4 25h-30zM1305.9 125h1.2l14.4 25h-30zM1306.9 125h1.2l14.4 25h-30zM1307.9 125h1.2l14.4 25h-30zM1308.9 125h1.2l14.4 25h-30zM1309.9 125h1.2l14.4 25h-30zM1310.9 125h1.2l14.4 25h-30zM1311.9 125h1.2l14.4 25h-30zM1312.9 125h1.2l14.4 25h-30zM1313.9 125h1.2l14.4 25h-30zM1314.9 135.8h1.2l14.4 25h-30zM1314.9 147.5h1.2l14.4 25h-30zM1314.9 160.8h1.2l14.4 25h-30zM1314.9 176.8h1.2l14.4 25h-30zM1314.9 194.9h1.2l14.4 25h-30zM1316.9 199.5h1.2l14.4 25h-30zM1316.9 219h1.2l14.4 25h-30zM1316.9 238.9h1.2l14.4 25h-30zM1316.9 258.7h1.2l14.4 25h-30zM1316.9 278.3h1.2l14.4 25h-30zM1316.9 297.4h1.2l14.4 25h-30zM1316.9 316.2h1.2l14.4 25h-30zM1316.9 335h1.2l14.4 25h-30zM1318.9 337.5h1.2l14.4 25h-30zM1318.9 355.8h1.2l14.4 25h-30zM1318.9 374h1.2l14.4 25h-30zM1318.9 391.8h1.2l14.4 25h-30zM1318.9 409.1h1.2l14.4 25h-30zM1318.9 426.3h1.2l14.4 25h-30zM1318.9 442.9h1.2l14.4 25h-30zM1318.9 459.4h1.2l14.4 25h-30zM1318.9 475.7h1.2l14.4 25h-30zM1318.9 491.4h1.2l14.4 25h-30zM1320.9 498.6h1.2l14.4 25h-30zM1320.9 514h1.2l14.4 25h-30zM1320.9 529.2h1.2l14.4 25h-30zM1320.9 543.8h1.2l14.4 25h-30zM1320.9 558.1h1.2l14.4 25h-30zM1320.9 572.2h1.2l14.4 25h-30zM1320.9 585.8h1.2l14.4 25h-30zM1320.9 599.1h1.2l14.4 25h-30zM1320.9 612h1.2l14.4 25h-30zM1322.9 612.8h1.2l14.4 25h-30zM1322.9 625.5h1.2l14.4 25h-30zM1322.9 637.8h1.2l14.4 25h-30zM1322.9 649.9h1.2l14.4 25h-30zM1322.9 661.6h1.2l14.4 25h-30zM1322.9 673h1.2l14.4 25h-30zM1322.9 684.1h1.2l14.4 25h-30zM1322.9 694.9h1.2l14.4 25h-30zM1322.9 705.6h1.2l14.4 25h-30zM1324.9 709.2h1.2l14.4 25h-30zM1324.9 719.5h1.2l14.4 25h-30zM1324.9 729.6h1.2l14.4 25h-30zM1324.9 739.3h1.2l14.4 25h-30zM1324.9 748.8h1.2l14.4 25h-30zM1324.9 758.1h1.2l14.4 25h-30zM1324.9 767.2h1.2l14.4 25h-30zM1324.9 776h1.2l14.4 25h-30zM1324.9 784.7h1.2l14.4 25h-30zM1326.9 785.1h1.2l14.4 25h-30zM1326.9 793.6h1.2l14.4 25h-30zM1326.9 801.8h1.2l14.4 25h-30zM1326.9 809.9h1.2l14.4 25h-30zM1326.9 817.7h1.2l14.4 25h-30zM1326.9 825.3h1.2l14.4 25h-30zM1326.9 832.7h1.2l14.4 25h-30zM1326.9 839.9h1.2l14.4 25h-30zM1326.9 847h1.2l14.4 25h-30zM1328.9 847.5h1.2l14.4 25h-30zM1328.9 854.4h1.2l14.4 25h-30zM1328.9 861.2h1.2l14.4 25h-30zM1328.9 867.7h1.2l14.4 25h-30zM1328.9 874.1h1.2l14.4 25h-30zM1328.9 880.3h1.2l14.4 25h-30zM1328.9 886.4h1.2l14.4 25h-30zM1328.9 892.3h1.2l14.4 25h-30zM1330.9 894.6h1.2l14.4 25h-30zM1330.9 900.3h1.2l14.4 25h-30zM1330.9 905.9h1.2l14.4 25h-30zM1330.9 911.3h1.2l14.4 25h-30z"/><path d="M1330.9 916.6h1.2l14.4 25h-30zM1330.9 921.8h1.2l14.4 25h-30zM1330.9 926.8h1.2l14.4 25h-30zM1332.9 930.6h1.2l14.4 25h-30zM1332.9 935.4h1.2l14.4 25h-30zM1332.9 940h1.2l14.4 25h-30zM1332.9 944.5h1.2l14.4 25h-30zM1332.9 948.8h1.2l14.4 25h-30zM1332.9 952.9h1.2l14.4 25h-30zM1332.9 957h1.2l14.4 25h-30zM1334.9 958.7h1.2l14.4 25h-30zM1334.9 962.5h1.2l14.4 25h-30zM1334.9 966.3h1.2l14.4 25h-30zM1334.9 969.9h1.2l14.4 25h-30zM1334.9 973.4h1.2l14.4 25h-30zM1334.9 976.8h1.2l14.4 25h-30zM1334.9 980.1h1.2l14.4 25h-30zM1334.9 983.2h1.2l14.4 25h-30zM1336.9 983.7h1.2l14.4 25h-30zM1336.9 986.7h1.2l14.4 25h-30zM1336.9 989.7h1.2l14.4 25h-30zM1336.9 992.6h1.2l14.4 25h-30zM1336.9 995.5h1.2l14.4 25h-30zM1336.9 998.4h1.2l14.4 25h-30zM1336.9 1001.2h1.2l14.4 25h-30zM1336.9 1003.9h1.2l14.4 25h-30zM1338.9 1006.3h1.2l14.4 25h-30zM1338.9 1009h1.2l14.4 25h-30zM1338.9 1011.6h1.2l14.4 25h-30zM1338.9 1014.1h1.2l14.4 25h-30zM1338.9 1016.7h1.2l14.4 25h-30zM1338.9 1019.1h1.2l14.4 25h-30zM1338.9 1021.6h1.2l14.4 25h-30zM1340.9 1022.3h1.2l14.4 25h-30zM1340.9 1024.7h1.2l14.4 25h-30zM1340.9 1027h1.2l14.4 25h-30zM1340.9 1029.3h1.2l14.4 25h-30zM1340.9 1031.6h1.2l14.4 25h-30zM1340.9 1033.8h1.2l14.4 25h-30zM1342.9 1034h1.2l14.4 25h-30zM1342.9 1036.2h1.2l14.4 25h-30zM1342.9 1038.4h1.2l14.4 25h-30zM1342.9 1040.5h1.2l14.4 25h-30zM1342.9 1042.6h1.2l14.4 25h-30zM1344.9 1043.4h1.2l14.4 25h-30zM1344.9 1045.5h1.2l14.4 25h-30zM1344.9 1047.5h1.2l14.4 25h-30zM1344.9 1049.5h1.2l14.4 25h-30zM1346.9 1051.4h1.2l14.4 25h-30zM1346.9 1053.3h1.2l14.4 25h-30zM1346.9 1055.3h1.2l14.4 25h-30zM1346.9 1057.1h1.2l14.4 25h-30zM1348.9 1058.7h1.2l14.4 25h-30zM1348.9 1060.6h1.2l14.4 25h-30zM1348.9 1062.4h1.2l14.4 25h-30zM1348.9 1064.2h1.2l14.4 25h-30zM1350.9 1065.3h1.2l14.4 25h-30zM1350.9 1067h1.2l14.4 25h-30zM1350.9 1068.8h1.2l14.4 25h-30zM1350.9 1070.5h1.2l14.4 25h-30zM1352.9 1070.6h1.2l14.4 25h-30zM1352.9 1072.3h1.2l14.4 25h-30zM1352.9 1074h1.2l14.4 25h-30zM1354.9 1074.3h1.2l14.4 25h-30zM1354.9 1075.9h1.2l14.4 25h-30zM1356.9 1077h1.2l14.4 25h-30zM1356.9 1078.6h1.2l14.4 25h-30zM1358.9 1079.2h1.2l14.4 25h-30zM1358.9 1080.8h1.2l14.4 25h-30zM1360.9 1081.1h1.2l14.4 25h-30zM1360.9 1082.7h1.2l14.4 25h-30zM1362.9 1082.8h1.2l14.4 25h-30zM1362.9 1084.3h1.2l14.4 25h-30zM1364.9 1084.4h1.2l14.4 25h-30zM1364.9 1085.9h1.2l14.4 25h-30zM1366.9 1086h1.2l14.4 25h-30zM1366.9 1087.5h1.2l14.4 25h-30zM1368.9 1087.9h1.2l14.4 25h-30zM1368.9 1089.4h1.2l14.4 25h-30zM1370.9 1090.1h1.2l14.4 25h-30zM1370.9 1091.6h1.2l14.4 25h-30zM1372.9 1092.8h1.2l14.4 25h-30zM1372.9 1094.4h1.2l14.4 25h-30zM1372.9 1095.9h1.2l14.4 25h-30zM1374.9 1096h1.2l14.4 25h-30zM1374.9 1097.5h1.2l14.4 25h-30zM1374.9 1099h1.2l14.4 25h-30zM1376.9 1099.3h1.2l14.4 25h-30zM1376.9 1100.8h1.2l14.4 25h-30zM1376.9 1102.3h1.2l14.4 25h-30zM1378.9 1102.5h1.2l14.4 25h-30zM1378.9 1104h1.2l14.4 25h-30zM1380.9 1105.3h1.2l14.4 25h-30zM1380.9 1106.8h1.2l14.4 25h-30zM1382.9 1107.5h1.2l14.4 25h-30zM1384.9 1108.9h1.2l14.4 25h-30zM1386.9 1109.8h1.2l14.4 25h-30zM1388.9 1110.5h1.2l14.4 25h-30zM1390.9 1110.7h1.2l14.4 25h-30zM1392.9 1110.7h1.2l14.4 25h-30zM1394.9 1110.7h1.2l14.4 25h-30zM1396.9 1110.7h1.2l14.4 25h-30zM1398.9 1110.7h1.2l14.4 25h-30zM1400.9 1110.7h1.2l14.4 25h-30zM1402.9 1109.3h1.2l14.4 27h-30zM1403.9 1109.3h1.2l14.4 27h-30zM1404.9 1109.3h1.2l14.4 27h-30zM1405.9 1109.3h1.2l14.4 27h-30zM1406.9 1109.3h1.2l14.4 27h-30zM1407.9 1109.3h1.2l14.4 27h-30zM1408.9 1109.3h1.2l14.4 27h-30zM1409.9 1109.3h1.2l14.4 27h-30zM1410.9 1109.3h1.2l14.4 27h-30zM1411.9 1109.3h1.2l14.4 27h-30zM1412.9 1109.3h1.2l14.4 27h-30zM1413.9 1109.3h1.2l14.4 27h-30zM1414.9 1109.3h1.2l14.4 27h-30zM1415.9 1109.3h1.2l14.4 27h-30zM1416.9 1109.3h1.2l14.4 27h-30zM1417.9 1109.3h1.2l14.4 27h-30zM1418.9 1109.3h1.2l14.4 27h-30zM1419.9 1109.3h1.2l14.4 27h-30zM1420.9 1109.3h1.2l14.4 27h-30zM1421.9 1109.3h1.2l14.4 27h-30zM1422.9 1109.3h1.2l14.4 27h-30zM1423.9 1109.3h1.2l14.4 27h-30zM1424.9 1109.3h1.2l14.4 27h-30zM1425.9 1109.3h1.2l14.4 27h-30zM1426.9 1109.3h1.2l14.4 27h-30zM1427.9 1109.3h1.2l14.4 27h-30zM1428.9 1109.3h1.2l14.4 27h-30zM1429.9 1109.3h1.2l14.4 27h-30zM1430.9 1109.3h1.2l14.4 27h-30zM1431.9 1109.3h1.2l14.4 27h-30zM1432.9 1109.3h1.2l14.4 27h-30zM1433.9 1109.3h1.2l14.4 27h-30zM1434.9 1109.3h1.2l14.4 27h-30zM1435.9 1109.3h1.2l14.4 27h-30zM1436.9 1109.3h1.2l14.4 27h-30zM1437.9 1109.3h1.2l14.4 27h-30zM1438.9 1109.3h1.2l14.4 27h-30zM1439.9 1109.3h1.2l14.4 27h-30zM1440.9 1109.3h1.2l14.4 27h-30zM1441.9 1109.3h1.2l14.4 27h-30zM1442.9 1109.3h1.2l14.4 27h-30zM1443.9 1109.3h1.2l14.4 27h-30zM1444.9 1109.3h1.2l14.4 27h-30zM1445.9 1109.3h1.2l14.4 27h-30zM1446.9 1109.3h1.2l14.4 27h-30zM1447.9 1109.3h1.2l14.4 27h-30z"/><path d="M1448.9 1109.3h1.2l14.4 27h-30zM1449.9 1109.3h1.2l14.4 27h-30zM1450.9 1109.3h1.2l14.4 27h-30zM1451.9 1109.3h1.2l14.4 27h-30zM1452.9 1109.3h1.2l14.4 27h-30zM1453.9 1109.3h1.2l14.4 27h-30zM1454.9 1109.3h1.2l14.4 27h-30zM1455.9 1109.3h1.2l14.4 27h-30zM1456.9 1109.3h1.2l14.4 27h-30zM1457.9 1109.3h1.2l14.4 27h-30zM1458.9 1109.3h1.2l14.4 27h-30zM1459.9 1109.3h1.2l14.4 27h-30zM1460.9 1109.3h1.2l14.4 27h-30zM1461.9 1109.3h1.2l14.4 27h-30zM1462.9 1109.3h1.2l14.4 27h-30zM1463.9 1109.3h1.2l14.4 27h-30zM1464.9 1109.3h1.2l14.4 27h-30zM1465.9 1109.3h1.2l14.4 27h-30zM1466.9 1109.3h1.2l14.4 27h-30zM1467.9 1109.3h1.2l14.4 27h-30zM1468.9 1109.3h1.2l14.4 27h-30zM1469.9 1109.3h1.2l14.4 27h-30zM1470.9 1109.3h1.2l14.4 27h-30zM1471.9 1109.3h1.2l14.4 27h-30zM1472.9 1109.3h1.2l14.4 27h-30zM1473.9 1109.3h1.2l14.4 27h-30zM1474.9 1109.3h1.2l14.4 27h-30zM1475.9 1109.3h1.2l14.4 27h-30zM1476.9 1109.3h1.2l14.4 27h-30zM1477.9 1109.3h1.2l14.4 27h-30zM1478.9 1109.3h1.2l14.4 27h-30zM1479.9 1109.3h1.2l14.4 27h-30zM1480.9 1109.3h1.2l14.4 27h-30zM1481.9 1109.3h1.2l14.4 27h-30zM1482.9 1109.3h1.2l14.4 27h-30zM1483.9 1109.3h1.2l14.4 27h-30zM1484.9 1109.3h1.2l14.4 27h-30zM1485.9 1109.3h1.2l14.4 27h-30zM1486.9 1109.3h1.2l14.4 27h-30zM1487.9 1109.3h1.2l14.4 27h-30zM1488.9 1109.3h1.2l14.4 27h-30zM1489.9 1109.3h1.2l14.4 27h-30zM1490.9 1109.3h1.2l14.4 27h-30zM1491.9 1109.3h1.2l14.4 27h-30zM1492.9 1109.3h1.2l14.4 27h-30zM1493.9 1109.3h1.2l14.4 27h-30zM1494.9 1109.3h1.2l14.4 27h-30zM1495.9 1109.3h1.2l14.4 27h-30zM1496.9 1109.3h1.2l14.4 27h-30zM1497.9 1109.3h1.2l14.4 27h-30zM1498.9 1109.3h1.2l14.4 27h-30zM1499.9 1109.3h1.2l14.4 27h-30zM1500.9 1109.3h1.2l14.4 27h-30zM1501.9 1109.3h1.2l14.4 27h-30zM1502.9 1109.3h1.2l14.4 27h-30zM1503.9 1109.3h1.2l14.4 27h-30zM1504.9 1109.3h1.2l14.4 27h-30zM1505.9 1109.3h1.2l14.4 27h-30zM1506.9 1109.3h1.2l14.4 27h-30zM1507.9 1109.3h1.2l14.4 27h-30zM1508.9 1109.3h1.2l14.4 27h-30zM1509.9 1109.3h1.2l14.4 27h-30zM1510.9 1109.3h1.2l14.4 27h-30zM1511.9 1109.3h1.2l14.4 27h-30zM1512.9 1109.3h1.2l14.4 27h-30zM1513.9 1109.3h1.2l14.4 27h-30zM1514.9 1109.3h1.2l14.4 27h-30zM1515.9 1109.3h1.2l14.4 27h-30zM1516.9 1109.3h1.2l14.4 27h-30zM1517.9 1109.3h1.2l14.4 27h-30zM1518.9 1109.3h1.2l14.4 27h-30zM1519.9 1109.3h1.2l14.4 27h-30zM1520.9 1109.3h1.2l14.4 27h-30zM1521.9 1109.3h1.2l14.4 27h-30zM1522.9 1109.3h1.2l14.4 27h-30zM1523.9 1109.3h1.2l14.4 27h-30zM1524.9 1109.3h1.2l14.4 27h-30zM1525.9 1109.3h1.2l14.4 27h-30zM1526.9 1109.3h1.2l14.4 27h-30zM1527.9 1109.3h1.2l14.4 27h-30zM1528.9 1109.3h1.2l14.4 27h-30zM1529.9 1109.3h1.2l14.4 27h-30zM1530.9 1109.3h1.2l14.4 27h-30zM1531.9 1109.3h1.2l14.4 27h-30zM1532.9 1109.3h1.2l14.4 27h-30zM1533.9 1109.3h1.2l14.4 27h-30zM1534.9 1109.3h1.2l14.4 27h-30zM1535.9 1109.3h1.2l14.4 27h-30zM1536.9 1109.3h1.2l14.4 27h-30zM1537.9 1109.3h1.2l14.4 27h-30zM1538.9 1109.3h1.2l14.4 27h-30zM1539.9 1109.3h1.2l14.4 27h-30zM1540.9 1109.3h1.2l14.4 27h-30zM1541.9 1109.3h1.2l14.4 27h-30zM1542.9 1109.3h1.2l14.4 27h-30zM1543.9 1109.3h1.2l14.4 27h-30zM1544.9 1109.3h1.2l14.4 27h-30zM1545.9 1109.3h1.2l14.4 27h-30zM1546.9 1109.3h1.2l14.4 27h-30zM1547.9 1109.3h1.2l14.4 27h-30zM1548.9 1109.3h1.2l14.4 27h-30zM1549.9 1109.3h1.2l14.4 27h-30zM1550.9 1109.3h1.2l14.4 27h-30zM1551.9 1109.3h1.2l14.4 27h-30zM1552.9 1109.3h1.2l14.4 27h-30zM1553.9 1109.3h1.2l14.4 27h-30zM1554.9 1109.3h1.2l14.4 27h-30zM1555.9 1109.3h1.2l14.4 27h-30zM1556.9 1109.3h1.2l14.4 27h-30zM1557.9 1109.3h1.2l14.4 27h-30zM1558.9 1109.3h1.2l14.4 27h-30zM1559.9 1109.3h1.2l14.4 27h-30zM1560.9 1109.3h1.2l14.4 27h-30zM1561.9 1109.3h1.2l14.4 27h-30zM1562.9 1109.3h1.2l14.4 27h-30zM1563.9 1109.3h1.2l14.4 27h-30zM1564.9 1109.3h1.2l14.4 27h-30zM1565.9 1109.3h1.2l14.4 27h-30zM1566.9 1109.3h1.2l14.4 27h-30zM1567.9 1109.3h1.2l14.4 27h-30zM1568.9 1109.3h1.2l14.4 27h-30zM1569.9 1109.3h1.2l14.4 27h-30zM1570.9 1109.3h1.2l14.4 27h-30zM1571.9 1109.3h1.2l14.4 27h-30zM1572.9 1109.3h1.2l14.4 27h-30zM1573.9 1109.3h1.2l14.4 27h-30zM1574.9 1109.3h1.2l14.4 27h-30zM1575.9 1109.3h1.2l14.4 27h-30zM1576.9 1109.3h1.2l14.4 27h-30zM1577.9 1109.3h1.2l14.4 27h-30zM1578.9 1109.3h1.2l14.4 27h-30zM1579.9 1109.3h1.2l14.4 27h-30zM1580.9 1109.3h1.2l14.4 27h-30zM1581.9 1109.3h1.2l14.4 27h-30zM1582.9 1109.3h1.2l14.4 27h-30zM1583.9 1109.3h1.2l14.4 27h-30zM1584.9 1109.3h1.2l14.4 27h-30zM1585.9 1109.3h1.2l14.4 27h-30zM1586.9 1109.3h1.2l14.4 27h-30zM1587.9 1109.3h1.2l14.4 27h-30zM1588.9 1109.3h1.2l14.4 27h-30zM1589.9 1109.3h1.2l14.4 27h-30zM1590.9 1109.3h1.2l14.4 27h-30zM1591.9 1109.3h1.2l14.4 27h-30zM1592.9 1109.3h1.2l14.4 27h-30zM1593.9 1109.3h1.2l14.4 27h-30zM1594.9 1109.3h1.2l14.4 27h-30zM1595.9 1109.3h1.2l14.4 27h-30zM1596.9 1109.3h1.2l14.4 27h-30zM1597.9 1109.3h1.2l14.4 27h-30z"/><path d="M1598.9 1109.3h1.2l14.4 27h-30zM1599.9 1109.3h1.2l14.4 27h-30zM1600.9 1109.3h1.2l14.4 27h-30zM1601.9 1109.3h1.2l14.4 27h-30zM1602.9 1109.3h1.2l14.4 27h-30zM1603.9 1109.3h1.2l14.4 27h-30zM1604.9 1109.3h1.2l14.4 27h-30zM1605.9 1109.3h1.2l14.4 27h-30zM1606.9 1109.3h1.2l14.4 27h-30zM1607.9 1109.3h1.2l14.4 27h-30zM1608.9 1109.3h1.2l14.4 27h-30zM1609.9 1109.3h1.2l14.4 27h-30zM1610.9 1109.3h1.2l14.4 27h-30zM1611.9 1109.3h1.2l14.4 27h-30zM1612.9 1109.3h1.2l14.4 27h-30zM1613.9 1109.3h1.2l14.4 27h-30zM1614.9 1109.3h1.2l14.4 27h-30zM1615.9 1109.3h1.2l14.4 27h-30zM1616.9 1109.3h1.2l14.4 27h-30zM1617.9 1109.3h1.2l14.4 27h-30zM1618.9 1109.3h1.2l14.4 27h-30zM1619.9 1109.3h1.2l14.4 27h-30zM1620.9 1109.3h1.2l14.4 27h-30zM1621.9 1109.3h1.2l14.4 27h-30zM1622.9 1109.3h1.2l14.4 27h-30zM1623.9 1109.3h1.2l14.4 27h-30zM1624.9 1109.3h1.2l14.4 27h-30zM1625.9 1109.3h1.2l14.4 27h-30zM1626.9 1109.3h1.2l14.4 27h-30zM1627.9 1109.3h1.2l14.4 27h-30zM1628.9 1109.3h1.2l14.4 27h-30zM1629.9 1109.3h1.2l14.4 27h-30zM1630.9 1109.3h1.2l14.4 27h-30zM1631.9 1109.3h1.2l14.4 27h-30zM1632.9 1109.3h1.2l14.4 27h-30zM1633.9 1109.3h1.2l14.4 27h-30zM1634.9 1109.3h1.2l14.4 27h-30zM1635.9 1109.3h1.2l14.4 27h-30zM1636.9 1109.3h1.2l14.4 27h-30zM1637.9 1109.3h1.2l14.4 27h-30zM1638.9 1109.3h1.2l14.4 27h-30zM1639.9 1109.3h1.2l14.4 27h-30zM1640.9 1109.3h1.2l14.4 27h-30zM1641.9 1109.3h1.2l14.4 27h-30zM1642.9 1109.3h1.2l14.4 27h-30zM1643.9 1109.3h1.2l14.4 27h-30zM1644.9 1109.3h1.2l14.4 27h-30zM1645.9 1109.3h1.2l14.4 27h-30zM1646.9 1109.3h1.2l14.4 27h-30zM1647.9 1109.3h1.2l14.4 27h-30zM1648.9 1109.3h1.2l14.4 27h-30zM1649.9 1109.3h1.2l14.4 27h-30zM1650.9 1109.3h1.2l14.4 27h-30zM1651.9 1109.3h1.2l14.4 27h-30zM1652.9 1109.3h1.2l14.4 27h-30zM1653.9 1109.3h1.2l14.4 27h-30zM1654.9 1109.3h1.2l14.4 27h-30zM1655.9 1109.3h1.2l14.4 27h-30zM1656.9 1109.3h1.2l14.4 27h-30zM1657.9 1109.3h1.2l14.4 27h-30zM1658.9 1109.3h1.2l14.4 27h-30zM1659.9 1109.3h1.2l14.4 27h-30zM1660.9 1109.3h1.2l14.4 27h-30zM1661.9 1109.3h1.2l14.4 27h-30zM1662.9 1109.3h1.2l14.4 27h-30zM1663.9 1109.3h1.2l14.4 27h-30zM1664.9 1109.3h1.2l14.4 27h-30zM1665.9 1109.3h1.2l14.4 27h-30zM1666.9 1109.3h1.2l14.4 27h-30zM1667.9 1109.3h1.2l14.4 27h-30zM1668.9 1109.3h1.2l14.4 27h-30zM1669.9 1109.3h1.2l14.4 27h-30zM1670.9 1109.3h1.2l14.4 27h-30zM1671.9 1109.3h1.2l14.4 27h-30zM1672.9 1109.3h1.2l14.4 27h-30zM1673.9 1109.3h1.2l14.4 27h-30zM1674.9 1109.3h1.2l14.4 27h-30zM1675.9 1109.3h1.2l14.4 27h-30zM1676.9 1109.3h1.2l14.4 27h-30zM1677.9 1109.7h1.2l14.4 27h-30z"/>
</g>
</g>
<rect x="354.4" y="95.4" width="50.2" height="50.2" fill="#fff" stroke="#515151" stroke-width="4.8" shape-rendering="crispEdges"/>
<circle cx="378.5" cy="218.7" r="22.2" fill="#fff" stroke="#f14040" stroke-width="5"/>
<path d="M378.9 282.9L408.2 333.1H349.8Z" fill="#1a6fdf"/>
<g fill="#000" stroke="none">
<path d="M650 962H655L653.1 484H648.1Z"/>
<path d="M641.8 485H661.2L652.8 454H649.2Z"/>
<path d="M1388 439H1393L1400.1 889H1395.1Z"/>
<path d="M1388 888H1407.2L1400 920H1396.6Z"/>
</g>
<text transform="translate(304.7 64.9) scale(1 1.02)" font-family="'Liberation Serif', serif" font-weight="bold" font-size="69.4" text-anchor="end" fill="#000">10000</text>
<text transform="translate(304.7 265.9) scale(1 1.02)" font-family="'Liberation Serif', serif" font-weight="bold" font-size="69.4" text-anchor="end" fill="#000">9000</text>
<text transform="translate(304.7 466.9) scale(1 1.02)" font-family="'Liberation Serif', serif" font-weight="bold" font-size="69.4" text-anchor="end" fill="#000">8000</text>
<text transform="translate(304.7 667.9) scale(1 1.02)" font-family="'Liberation Serif', serif" font-weight="bold" font-size="69.4" text-anchor="end" fill="#000">7000</text>
<text transform="translate(304.7 868.9) scale(1 1.02)" font-family="'Liberation Serif', serif" font-weight="bold" font-size="69.4" text-anchor="end" fill="#000">6000</text>
<text transform="translate(304.7 1069.9) scale(1 1.02)" font-family="'Liberation Serif', serif" font-weight="bold" font-size="69.4" text-anchor="end" fill="#000">5000</text>
<text transform="translate(352.2 1229.6) scale(0.982 1)" font-family="'Liberation Serif', serif" font-weight="bold" font-size="76" text-anchor="middle" fill="#000">0</text>
<text transform="translate(592.3 1229.6) scale(0.982 1)" font-family="'Liberation Serif', serif" font-weight="bold" font-size="76" text-anchor="middle" fill="#000">100</text>
<text transform="translate(833.5 1229.6) scale(0.982 1)" font-family="'Liberation Serif', serif" font-weight="bold" font-size="76" text-anchor="middle" fill="#000">200</text>
<text transform="translate(1073 1229.6) scale(0.982 1)" font-family="'Liberation Serif', serif" font-weight="bold" font-size="76" text-anchor="middle" fill="#000">300</text>
<text transform="translate(1315.3 1229.6) scale(0.982 1)" font-family="'Liberation Serif', serif" font-weight="bold" font-size="76" text-anchor="middle" fill="#000">400</text>
<text transform="translate(1555 1229.6) scale(0.982 1)" font-family="'Liberation Serif', serif" font-weight="bold" font-size="76" text-anchor="middle" fill="#000">500</text>
<text transform="translate(873.7 1345) scale(1 1.06)" font-family="'Liberation Serif', serif" font-weight="bold" font-size="69" text-anchor="start" fill="#000" letter-spacing="2.5">Time<tspan dx="-1.5" letter-spacing="1.5"> (s)</tspan></text>
<text transform="translate(90 889) rotate(-90) scale(1 1.03)" font-family="'Liberation Serif', serif" font-weight="bold" font-size="90" text-anchor="start" fill="#000" letter-spacing="2.1">Resistance<tspan dx="0.4"> (O)</tspan></text>
<text transform="translate(437.4 137.8)" font-family="'Liberation Sans', sans-serif" font-weight="normal" font-size="64.5" text-anchor="start" fill="#000" letter-spacing="1.8">adhesive</text>
<text transform="translate(436.7 236.8)" font-family="'Liberation Sans', sans-serif" font-weight="normal" font-size="64.5" text-anchor="start" fill="#000" letter-spacing="1.33">tin wire</text>
<text transform="translate(436.7 334.2)" font-family="'Liberation Sans', sans-serif" font-weight="normal" font-size="64.5" text-anchor="start" fill="#000" letter-spacing="1.46">tin paste</text>
<text transform="translate(415.5 704) scale(1 1.03)" font-family="'Liberation Serif', serif" font-weight="bold" font-size="70" text-anchor="start" fill="#000" letter-spacing="1.5">cooling</text>
<text transform="translate(1420.7 726.8)" font-family="'Liberation Serif', serif" font-weight="bold" font-size="69.5" text-anchor="start" fill="#000" letter-spacing="1.5">heating</text>
</svg></body></html>
